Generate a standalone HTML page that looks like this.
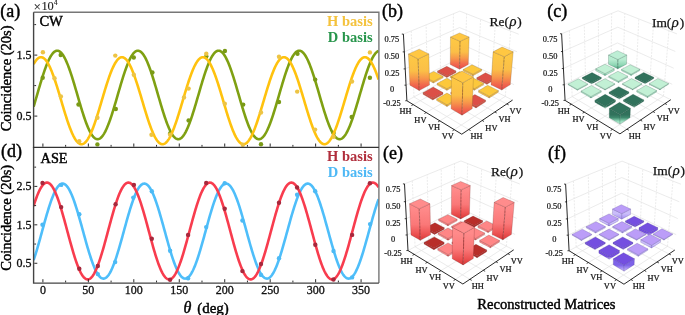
<!DOCTYPE html>
<html><head><meta charset="utf-8"><style>html,body{margin:0;padding:0;background:#fff;}svg{display:block;will-change:transform;}</style></head>
<body><svg width="685" height="315" viewBox="0 0 685 315"><defs><clipPath id="ca"><rect x="33.6" y="12.2" width="345.29999999999995" height="135.20000000000002"/></clipPath><clipPath id="cd"><rect x="33.6" y="147.4" width="345.29999999999995" height="135.70000000000002"/></clipPath><linearGradient id="g2" gradientUnits="userSpaceOnUse" x1="0" y1="41.32" x2="0" y2="69.15"><stop offset="0" stop-color="#FDC745"/><stop offset="0.38" stop-color="#FBBF47"/><stop offset="0.6" stop-color="#F8994A"/><stop offset="0.82" stop-color="#F1684D"/><stop offset="1" stop-color="#E8494C"/></linearGradient><linearGradient id="g3" gradientUnits="userSpaceOnUse" x1="0" y1="75.89" x2="0" y2="77.44"><stop offset="0" stop-color="#DC4F47"/><stop offset="1" stop-color="#D04840"/></linearGradient><linearGradient id="g4" gradientUnits="userSpaceOnUse" x1="0" y1="74.24" x2="0" y2="75.79"><stop offset="0" stop-color="#FDC546"/><stop offset="1" stop-color="#E0A234"/></linearGradient><linearGradient id="g5" gradientUnits="userSpaceOnUse" x1="0" y1="81.42" x2="0" y2="83"><stop offset="0" stop-color="#FDC546"/><stop offset="1" stop-color="#E0A234"/></linearGradient><linearGradient id="g6" gradientUnits="userSpaceOnUse" x1="0" y1="81.62" x2="0" y2="82.88"><stop offset="0" stop-color="#FDC546"/><stop offset="1" stop-color="#E0A234"/></linearGradient><linearGradient id="g7" gradientUnits="userSpaceOnUse" x1="0" y1="82.76" x2="0" y2="84.33"><stop offset="0" stop-color="#DC4F47"/><stop offset="1" stop-color="#D04840"/></linearGradient><linearGradient id="g8" gradientUnits="userSpaceOnUse" x1="0" y1="58.97" x2="0" y2="90.52"><stop offset="0" stop-color="#FDC745"/><stop offset="0.38" stop-color="#FBBF47"/><stop offset="0.6" stop-color="#F8994A"/><stop offset="0.82" stop-color="#F1684D"/><stop offset="1" stop-color="#E8494C"/></linearGradient><linearGradient id="g9" gradientUnits="userSpaceOnUse" x1="0" y1="88.76" x2="0" y2="90.37"><stop offset="0" stop-color="#FDC546"/><stop offset="1" stop-color="#E0A234"/></linearGradient><linearGradient id="g10" gradientUnits="userSpaceOnUse" x1="0" y1="88.62" x2="0" y2="90.22"><stop offset="0" stop-color="#FDC546"/><stop offset="1" stop-color="#E0A234"/></linearGradient><linearGradient id="g11" gradientUnits="userSpaceOnUse" x1="0" y1="56.73" x2="0" y2="90.07"><stop offset="0" stop-color="#FDC745"/><stop offset="0.38" stop-color="#FBBF47"/><stop offset="0.6" stop-color="#F8994A"/><stop offset="0.82" stop-color="#F1684D"/><stop offset="1" stop-color="#E8494C"/></linearGradient><linearGradient id="g12" gradientUnits="userSpaceOnUse" x1="0" y1="98.3" x2="0" y2="99.93"><stop offset="0" stop-color="#DC4F47"/><stop offset="1" stop-color="#D04840"/></linearGradient><linearGradient id="g13" gradientUnits="userSpaceOnUse" x1="0" y1="98.12" x2="0" y2="99.42"><stop offset="0" stop-color="#DC4F47"/><stop offset="1" stop-color="#D04840"/></linearGradient><linearGradient id="g14" gradientUnits="userSpaceOnUse" x1="0" y1="96.32" x2="0" y2="97.94"><stop offset="0" stop-color="#FDC546"/><stop offset="1" stop-color="#E0A234"/></linearGradient><linearGradient id="g15" gradientUnits="userSpaceOnUse" x1="0" y1="104.83" x2="0" y2="106.5"><stop offset="0" stop-color="#FDC546"/><stop offset="1" stop-color="#E0A234"/></linearGradient><linearGradient id="g16" gradientUnits="userSpaceOnUse" x1="0" y1="106.29" x2="0" y2="107.94"><stop offset="0" stop-color="#DC4F47"/><stop offset="1" stop-color="#D04840"/></linearGradient><linearGradient id="g17" gradientUnits="userSpaceOnUse" x1="0" y1="82.75" x2="0" y2="115.14"><stop offset="0" stop-color="#FDC745"/><stop offset="0.38" stop-color="#FBBF47"/><stop offset="0.6" stop-color="#F8994A"/><stop offset="0.82" stop-color="#F1684D"/><stop offset="1" stop-color="#E8494C"/></linearGradient><linearGradient id="g18" gradientUnits="userSpaceOnUse" x1="0" y1="59.54" x2="0" y2="68.8"><stop offset="0" stop-color="#B8ECD1"/><stop offset="0.6" stop-color="#8ED6B4"/><stop offset="1" stop-color="#4FA883"/></linearGradient><linearGradient id="g19" gradientUnits="userSpaceOnUse" x1="0" y1="73.67" x2="0" y2="75.54"><stop offset="0" stop-color="#B5EBCF"/><stop offset="1" stop-color="#5DB994"/></linearGradient><linearGradient id="g20" gradientUnits="userSpaceOnUse" x1="0" y1="74.2" x2="0" y2="75.44"><stop offset="0" stop-color="#B5EBCF"/><stop offset="1" stop-color="#5DB994"/></linearGradient><linearGradient id="g21" gradientUnits="userSpaceOnUse" x1="0" y1="82.65" x2="0" y2="83.91"><stop offset="0" stop-color="#31725C"/><stop offset="1" stop-color="#C5F5DE"/></linearGradient><linearGradient id="g22" gradientUnits="userSpaceOnUse" x1="0" y1="81.27" x2="0" y2="82.53"><stop offset="0" stop-color="#B5EBCF"/><stop offset="1" stop-color="#5DB994"/></linearGradient><linearGradient id="g23" gradientUnits="userSpaceOnUse" x1="0" y1="82.41" x2="0" y2="83.66"><stop offset="0" stop-color="#31725C"/><stop offset="1" stop-color="#C5F5DE"/></linearGradient><linearGradient id="g24" gradientUnits="userSpaceOnUse" x1="0" y1="89.39" x2="0" y2="90.17"><stop offset="0" stop-color="#B5EBCF"/><stop offset="1" stop-color="#5DB994"/></linearGradient><linearGradient id="g25" gradientUnits="userSpaceOnUse" x1="0" y1="89.25" x2="0" y2="90.02"><stop offset="0" stop-color="#B5EBCF"/><stop offset="1" stop-color="#5DB994"/></linearGradient><linearGradient id="g26" gradientUnits="userSpaceOnUse" x1="0" y1="89.1" x2="0" y2="89.87"><stop offset="0" stop-color="#B5EBCF"/><stop offset="1" stop-color="#5DB994"/></linearGradient><linearGradient id="g27" gradientUnits="userSpaceOnUse" x1="0" y1="88.96" x2="0" y2="89.72"><stop offset="0" stop-color="#B5EBCF"/><stop offset="1" stop-color="#5DB994"/></linearGradient><linearGradient id="g28" gradientUnits="userSpaceOnUse" x1="0" y1="96.64" x2="0" y2="97.95"><stop offset="0" stop-color="#B5EBCF"/><stop offset="1" stop-color="#5DB994"/></linearGradient><linearGradient id="g29" gradientUnits="userSpaceOnUse" x1="0" y1="97.77" x2="0" y2="99.07"><stop offset="0" stop-color="#31725C"/><stop offset="1" stop-color="#C5F5DE"/></linearGradient><linearGradient id="g30" gradientUnits="userSpaceOnUse" x1="0" y1="96.29" x2="0" y2="97.59"><stop offset="0" stop-color="#B5EBCF"/><stop offset="1" stop-color="#5DB994"/></linearGradient><linearGradient id="g31" gradientUnits="userSpaceOnUse" x1="0" y1="106.15" x2="0" y2="108.13"><stop offset="0" stop-color="#31725C"/><stop offset="1" stop-color="#C5F5DE"/></linearGradient><linearGradient id="g32" gradientUnits="userSpaceOnUse" x1="0" y1="105.94" x2="0" y2="107.26"><stop offset="0" stop-color="#31725C"/><stop offset="1" stop-color="#C5F5DE"/></linearGradient><linearGradient id="g33" gradientUnits="userSpaceOnUse" x1="0" y1="114.79" x2="0" y2="124.1"><stop offset="0" stop-color="#31725C"/><stop offset="0.3" stop-color="#3F8A6E"/><stop offset="0.7" stop-color="#97DEBD"/><stop offset="1" stop-color="#C8F7E0"/></linearGradient><linearGradient id="g34" gradientUnits="userSpaceOnUse" x1="0" y1="189.81" x2="0" y2="218.95"><stop offset="0" stop-color="#FF8A8A"/><stop offset="0.5" stop-color="#FA7878"/><stop offset="0.8" stop-color="#EC5252"/><stop offset="1" stop-color="#D83838"/></linearGradient><linearGradient id="g35" gradientUnits="userSpaceOnUse" x1="0" y1="224.13" x2="0" y2="225.69"><stop offset="0" stop-color="#FF8E8E"/><stop offset="1" stop-color="#D83A3A"/></linearGradient><linearGradient id="g36" gradientUnits="userSpaceOnUse" x1="0" y1="225.59" x2="0" y2="227.14"><stop offset="0" stop-color="#B82E2A"/><stop offset="1" stop-color="#A82828"/></linearGradient><linearGradient id="g37" gradientUnits="userSpaceOnUse" x1="0" y1="232.8" x2="0" y2="234.38"><stop offset="0" stop-color="#B82E2A"/><stop offset="1" stop-color="#A82828"/></linearGradient><linearGradient id="g38" gradientUnits="userSpaceOnUse" x1="0" y1="231.42" x2="0" y2="232.68"><stop offset="0" stop-color="#FF8E8E"/><stop offset="1" stop-color="#D83A3A"/></linearGradient><linearGradient id="g39" gradientUnits="userSpaceOnUse" x1="0" y1="230.98" x2="0" y2="232.56"><stop offset="0" stop-color="#FF8E8E"/><stop offset="1" stop-color="#D83A3A"/></linearGradient><linearGradient id="g40" gradientUnits="userSpaceOnUse" x1="0" y1="208.77" x2="0" y2="240.32"><stop offset="0" stop-color="#FF8A8A"/><stop offset="0.5" stop-color="#FA7878"/><stop offset="0.8" stop-color="#EC5252"/><stop offset="1" stop-color="#D83838"/></linearGradient><linearGradient id="g41" gradientUnits="userSpaceOnUse" x1="0" y1="238.56" x2="0" y2="240.17"><stop offset="0" stop-color="#FF8E8E"/><stop offset="1" stop-color="#D83A3A"/></linearGradient><linearGradient id="g42" gradientUnits="userSpaceOnUse" x1="0" y1="238.42" x2="0" y2="240.02"><stop offset="0" stop-color="#FF8E8E"/><stop offset="1" stop-color="#D83A3A"/></linearGradient><linearGradient id="g43" gradientUnits="userSpaceOnUse" x1="0" y1="207.23" x2="0" y2="239.87"><stop offset="0" stop-color="#FF8A8A"/><stop offset="0.5" stop-color="#FA7878"/><stop offset="0.8" stop-color="#EC5252"/><stop offset="1" stop-color="#D83838"/></linearGradient><linearGradient id="g44" gradientUnits="userSpaceOnUse" x1="0" y1="248.1" x2="0" y2="249.73"><stop offset="0" stop-color="#B82E2A"/><stop offset="1" stop-color="#A82828"/></linearGradient><linearGradient id="g45" gradientUnits="userSpaceOnUse" x1="0" y1="247.92" x2="0" y2="249.22"><stop offset="0" stop-color="#B82E2A"/><stop offset="1" stop-color="#A82828"/></linearGradient><linearGradient id="g46" gradientUnits="userSpaceOnUse" x1="0" y1="246.12" x2="0" y2="247.74"><stop offset="0" stop-color="#FF8E8E"/><stop offset="1" stop-color="#D83A3A"/></linearGradient><linearGradient id="g47" gradientUnits="userSpaceOnUse" x1="0" y1="254.63" x2="0" y2="256.3"><stop offset="0" stop-color="#FF8E8E"/><stop offset="1" stop-color="#D83A3A"/></linearGradient><linearGradient id="g48" gradientUnits="userSpaceOnUse" x1="0" y1="256.09" x2="0" y2="257.74"><stop offset="0" stop-color="#B82E2A"/><stop offset="1" stop-color="#A82828"/></linearGradient><linearGradient id="g49" gradientUnits="userSpaceOnUse" x1="0" y1="233.29" x2="0" y2="264.94"><stop offset="0" stop-color="#FF8A8A"/><stop offset="0.5" stop-color="#FA7878"/><stop offset="0.8" stop-color="#EC5252"/><stop offset="1" stop-color="#D83838"/></linearGradient><linearGradient id="g50" gradientUnits="userSpaceOnUse" x1="0" y1="213.62" x2="0" y2="219.15"><stop offset="0" stop-color="#CABDFA"/><stop offset="1" stop-color="#A38EF2"/></linearGradient><linearGradient id="g51" gradientUnits="userSpaceOnUse" x1="0" y1="223.4" x2="0" y2="225.89"><stop offset="0" stop-color="#CABDFA"/><stop offset="1" stop-color="#A38EF2"/></linearGradient><linearGradient id="g52" gradientUnits="userSpaceOnUse" x1="0" y1="225.79" x2="0" y2="227.03"><stop offset="0" stop-color="#744FE0"/><stop offset="1" stop-color="#CDBFFB"/></linearGradient><linearGradient id="g53" gradientUnits="userSpaceOnUse" x1="0" y1="231.73" x2="0" y2="233"><stop offset="0" stop-color="#CABDFA"/><stop offset="1" stop-color="#A38EF2"/></linearGradient><linearGradient id="g54" gradientUnits="userSpaceOnUse" x1="0" y1="231.62" x2="0" y2="232.88"><stop offset="0" stop-color="#CABDFA"/><stop offset="1" stop-color="#A38EF2"/></linearGradient><linearGradient id="g55" gradientUnits="userSpaceOnUse" x1="0" y1="232.76" x2="0" y2="235.26"><stop offset="0" stop-color="#744FE0"/><stop offset="1" stop-color="#CDBFFB"/></linearGradient><linearGradient id="g56" gradientUnits="userSpaceOnUse" x1="0" y1="239.74" x2="0" y2="240.52"><stop offset="0" stop-color="#CABDFA"/><stop offset="1" stop-color="#A38EF2"/></linearGradient><linearGradient id="g57" gradientUnits="userSpaceOnUse" x1="0" y1="239.6" x2="0" y2="240.37"><stop offset="0" stop-color="#CABDFA"/><stop offset="1" stop-color="#A38EF2"/></linearGradient><linearGradient id="g58" gradientUnits="userSpaceOnUse" x1="0" y1="239.45" x2="0" y2="240.22"><stop offset="0" stop-color="#CABDFA"/><stop offset="1" stop-color="#A38EF2"/></linearGradient><linearGradient id="g59" gradientUnits="userSpaceOnUse" x1="0" y1="239.31" x2="0" y2="240.07"><stop offset="0" stop-color="#CABDFA"/><stop offset="1" stop-color="#A38EF2"/></linearGradient><linearGradient id="g60" gradientUnits="userSpaceOnUse" x1="0" y1="248.3" x2="0" y2="249.6"><stop offset="0" stop-color="#744FE0"/><stop offset="1" stop-color="#CDBFFB"/></linearGradient><linearGradient id="g61" gradientUnits="userSpaceOnUse" x1="0" y1="248.12" x2="0" y2="249.42"><stop offset="0" stop-color="#744FE0"/><stop offset="1" stop-color="#CDBFFB"/></linearGradient><linearGradient id="g62" gradientUnits="userSpaceOnUse" x1="0" y1="245.34" x2="0" y2="247.94"><stop offset="0" stop-color="#CABDFA"/><stop offset="1" stop-color="#A38EF2"/></linearGradient><linearGradient id="g63" gradientUnits="userSpaceOnUse" x1="0" y1="256.5" x2="0" y2="259.14"><stop offset="0" stop-color="#744FE0"/><stop offset="1" stop-color="#CDBFFB"/></linearGradient><linearGradient id="g64" gradientUnits="userSpaceOnUse" x1="0" y1="254.96" x2="0" y2="256.29"><stop offset="0" stop-color="#CABDFA"/><stop offset="1" stop-color="#A38EF2"/></linearGradient><linearGradient id="g65" gradientUnits="userSpaceOnUse" x1="0" y1="265.14" x2="0" y2="271.15"><stop offset="0" stop-color="#7D62E8"/><stop offset="0.5" stop-color="#A590F2"/><stop offset="1" stop-color="#CBBDFA"/></linearGradient></defs><rect width="685" height="315" fill="#fff"/><g clip-path="url(#ca)">
<path d="M33.6,106.74 L34.1,105.07 L34.6,103.39 L35.1,101.69 L35.6,99.98 L36.1,98.26 L36.6,96.54 L37.1,94.82 L37.6,93.1 L38.1,91.38 L38.6,89.66 L39.1,87.96 L39.6,86.26 L40.1,84.58 L40.6,82.91 L41.1,81.26 L41.6,79.63 L42.1,78.03 L42.6,76.45 L43.1,74.9 L43.6,73.38 L44.1,71.89 L44.6,70.44 L45.1,69.02 L45.6,67.65 L46.1,66.31 L46.6,65.02 L47.1,63.77 L47.6,62.57 L48.1,61.42 L48.6,60.33 L49.1,59.28 L49.6,58.29 L50.1,57.35 L50.6,56.47 L51.1,55.65 L51.6,54.89 L52.1,54.19 L52.6,53.55 L53.1,52.97 L53.6,52.46 L54.1,52.01 L54.6,51.63 L55.1,51.31 L55.6,51.06 L56.1,50.87 L56.6,50.75 L57.1,50.7 L57.6,50.72 L58.1,50.8 L58.6,50.95 L59.1,51.17 L59.6,51.45 L60.1,51.8 L60.6,52.22 L61.1,52.7 L61.6,53.24 L62.1,53.85 L62.6,54.51 L63.1,55.24 L63.6,56.04 L64.1,56.89 L64.6,57.79 L65.1,58.76 L65.6,59.77 L66.1,60.85 L66.6,61.97 L67.1,63.14 L67.6,64.37 L68.1,65.63 L68.6,66.95 L69.1,68.3 L69.6,69.7 L70.1,71.13 L70.6,72.6 L71.1,74.11 L71.6,75.64 L72.1,77.21 L72.6,78.8 L73.1,80.41 L73.6,82.05 L74.1,83.71 L74.6,85.38 L75.1,87.07 L75.6,88.78 L76.1,90.49 L76.6,92.2 L77.1,93.92 L77.6,95.65 L78.1,97.37 L78.6,99.09 L79.1,100.8 L79.6,102.5 L80.1,104.2 L80.6,105.87 L81.1,107.53 L81.6,109.18 L82.1,110.8 L82.6,112.39 L83.1,113.96 L83.6,115.51 L84.1,117.02 L84.6,118.49 L85.1,119.93 L85.6,121.34 L86.1,122.7 L86.6,124.02 L87.1,125.3 L87.6,126.53 L88.1,127.71 L88.6,128.84 L89.1,129.93 L89.6,130.95 L90.1,131.93 L90.6,132.85 L91.1,133.71 L91.6,134.51 L92.1,135.25 L92.6,135.93 L93.1,136.55 L93.6,137.11 L94.1,137.6 L94.6,138.03 L95.1,138.39 L95.6,138.68 L96.1,138.91 L96.6,139.08 L97.1,139.17 L97.6,139.2 L98.1,139.16 L98.6,139.06 L99.1,138.88 L99.6,138.65 L100.1,138.34 L100.6,137.97 L101.1,137.53 L101.6,137.03 L102.1,136.47 L102.6,135.84 L103.1,135.15 L103.6,134.4 L104.1,133.59 L104.6,132.72 L105.1,131.8 L105.6,130.81 L106.1,129.78 L106.6,128.69 L107.1,127.55 L107.6,126.36 L108.1,125.12 L108.6,123.84 L109.1,122.51 L109.6,121.14 L110.1,119.73 L110.6,118.29 L111.1,116.81 L111.6,115.29 L112.1,113.75 L112.6,112.17 L113.1,110.57 L113.6,108.95 L114.1,107.3 L114.6,105.64 L115.1,103.96 L115.6,102.27 L116.1,100.56 L116.6,98.85 L117.1,97.13 L117.6,95.41 L118.1,93.68 L118.6,91.96 L119.1,90.25 L119.6,88.54 L120.1,86.84 L120.6,85.15 L121.1,83.48 L121.6,81.82 L122.1,80.19 L122.6,78.57 L123.1,76.98 L123.6,75.42 L124.1,73.89 L124.6,72.39 L125.1,70.93 L125.6,69.5 L126.1,68.11 L126.6,66.76 L127.1,65.45 L127.6,64.19 L128.1,62.98 L128.6,61.81 L129.1,60.69 L129.6,59.63 L130.1,58.62 L130.6,57.66 L131.1,56.76 L131.6,55.92 L132.1,55.14 L132.6,54.42 L133.1,53.76 L133.6,53.16 L134.1,52.62 L134.6,52.15 L135.1,51.75 L135.6,51.41 L136.1,51.13 L136.6,50.93 L137.1,50.79 L137.6,50.71 L138.1,50.71 L138.6,50.77 L139.1,50.89 L139.6,51.09 L140.1,51.35 L140.6,51.67 L141.1,52.07 L141.6,52.52 L142.1,53.05 L142.6,53.63 L143.1,54.28 L143.6,54.99 L144.1,55.76 L144.6,56.59 L145.1,57.48 L145.6,58.42 L146.1,59.42 L146.6,60.48 L147.1,61.58 L147.6,62.74 L148.1,63.95 L148.6,65.2 L149.1,66.5 L149.6,67.84 L150.1,69.22 L150.6,70.64 L151.1,72.1 L151.6,73.59 L152.1,75.12 L152.6,76.67 L153.1,78.25 L153.6,79.86 L154.1,81.49 L154.6,83.14 L155.1,84.81 L155.6,86.5 L156.1,88.2 L156.6,89.9 L157.1,91.62 L157.6,93.34 L158.1,95.06 L158.6,96.78 L159.1,98.5 L159.6,100.22 L160.1,101.93 L160.6,103.62 L161.1,105.3 L161.6,106.97 L162.1,108.62 L162.6,110.25 L163.1,111.85 L163.6,113.43 L164.1,114.98 L164.6,116.51 L165.1,117.99 L165.6,119.45 L166.1,120.86 L166.6,122.24 L167.1,123.58 L167.6,124.87 L168.1,126.11 L168.6,127.31 L169.1,128.46 L169.6,129.56 L170.1,130.61 L170.6,131.6 L171.1,132.54 L171.6,133.42 L172.1,134.24 L172.6,135.01 L173.1,135.71 L173.6,136.35 L174.1,136.92 L174.6,137.44 L175.1,137.89 L175.6,138.27 L176.1,138.59 L176.6,138.84 L177.1,139.03 L177.6,139.15 L178.1,139.2 L178.6,139.18 L179.1,139.1 L179.6,138.95 L180.1,138.73 L180.6,138.45 L181.1,138.1 L181.6,137.69 L182.1,137.21 L182.6,136.67 L183.1,136.06 L183.6,135.39 L184.1,134.66 L184.6,133.87 L185.1,133.02 L185.6,132.12 L186.1,131.15 L186.6,130.14 L187.1,129.06 L187.6,127.94 L188.1,126.77 L188.6,125.55 L189.1,124.28 L189.6,122.97 L190.1,121.61 L190.6,120.22 L191.1,118.78 L191.6,117.31 L192.1,115.81 L192.6,114.27 L193.1,112.71 L193.6,111.12 L194.1,109.5 L194.6,107.86 L195.1,106.21 L195.6,104.53 L196.1,102.84 L196.6,101.14 L197.1,99.43 L197.6,97.71 L198.1,95.99 L198.6,94.27 L199.1,92.55 L199.6,90.83 L200.1,89.12 L200.6,87.41 L201.1,85.72 L201.6,84.04 L202.1,82.38 L202.6,80.74 L203.1,79.12 L203.6,77.52 L204.1,75.95 L204.6,74.41 L205.1,72.9 L205.6,71.42 L206.1,69.98 L206.6,68.58 L207.1,67.21 L207.6,65.89 L208.1,64.62 L208.6,63.38 L209.1,62.2 L209.6,61.07 L210.1,59.98 L210.6,58.96 L211.1,57.98 L211.6,57.06 L212.1,56.2 L212.6,55.4 L213.1,54.66 L213.6,53.97 L214.1,53.35 L214.6,52.8 L215.1,52.31 L215.6,51.88 L216.1,51.52 L216.6,51.22 L217.1,50.99 L217.6,50.83 L218.1,50.73 L218.6,50.7 L219.1,50.74 L219.6,50.84 L220.1,51.01 L220.6,51.25 L221.1,51.56 L221.6,51.93 L222.1,52.36 L222.6,52.86 L223.1,53.43 L223.6,54.05 L224.1,54.74 L224.6,55.49 L225.1,56.3 L225.6,57.17 L226.1,58.09 L226.6,59.08 L227.1,60.11 L227.6,61.2 L228.1,62.34 L228.6,63.53 L229.1,64.77 L229.6,66.05 L230.1,67.38 L230.6,68.74 L231.1,70.15 L231.6,71.6 L232.1,73.08 L232.6,74.59 L233.1,76.14 L233.6,77.71 L234.1,79.31 L234.6,80.94 L235.1,82.58 L235.6,84.24 L236.1,85.92 L236.6,87.62 L237.1,89.32 L237.6,91.03 L238.1,92.75 L238.6,94.48 L239.1,96.2 L239.6,97.92 L240.1,99.64 L240.6,101.35 L241.1,103.05 L241.6,104.73 L242.1,106.41 L242.6,108.06 L243.1,109.7 L243.6,111.31 L244.1,112.9 L244.6,114.46 L245.1,115.99 L245.6,117.49 L246.1,118.96 L246.6,120.39 L247.1,121.78 L247.6,123.13 L248.1,124.43 L248.6,125.7 L249.1,126.91 L249.6,128.08 L250.1,129.2 L250.6,130.26 L251.1,131.27 L251.6,132.23 L252.1,133.13 L252.6,133.97 L253.1,134.75 L253.6,135.48 L254.1,136.14 L254.6,136.74 L255.1,137.27 L255.6,137.74 L256.1,138.15 L256.6,138.49 L257.1,138.76 L257.6,138.97 L258.1,139.11 L258.6,139.19 L259.1,139.19 L259.6,139.14 L260.1,139.01 L260.6,138.81 L261.1,138.55 L261.6,138.23 L262.1,137.84 L262.6,137.38 L263.1,136.86 L263.6,136.27 L264.1,135.63 L264.6,134.92 L265.1,134.15 L265.6,133.32 L266.1,132.43 L266.6,131.49 L267.1,130.49 L267.6,129.43 L268.1,128.33 L268.6,127.17 L269.1,125.97 L269.6,124.71 L270.1,123.42 L270.6,122.08 L271.1,120.7 L271.6,119.27 L272.1,117.82 L272.6,116.32 L273.1,114.8 L273.6,113.25 L274.1,111.66 L274.6,110.05 L275.1,108.42 L275.6,106.77 L276.1,105.1 L276.6,103.42 L277.1,101.72 L277.6,100.01 L278.1,98.3 L278.6,96.58 L279.1,94.86 L279.6,93.13 L280.1,91.41 L280.6,89.7 L281.1,87.99 L281.6,86.3 L282.1,84.61 L282.6,82.94 L283.1,81.3 L283.6,79.67 L284.1,78.06 L284.6,76.48 L285.1,74.93 L285.6,73.41 L286.1,71.92 L286.6,70.47 L287.1,69.05 L287.6,67.67 L288.1,66.34 L288.6,65.05 L289.1,63.8 L289.6,62.6 L290.1,61.45 L290.6,60.35 L291.1,59.3 L291.6,58.31 L292.1,57.37 L292.6,56.49 L293.1,55.66 L293.6,54.9 L294.1,54.2 L294.6,53.56 L295.1,52.98 L295.6,52.47 L296.1,52.02 L296.6,51.63 L297.1,51.31 L297.6,51.06 L298.1,50.87 L298.6,50.75 L299.1,50.7 L299.6,50.72 L300.1,50.8 L300.6,50.95 L301.1,51.16 L301.6,51.45 L302.1,51.79 L302.6,52.21 L303.1,52.68 L303.6,53.23 L304.1,53.83 L304.6,54.5 L305.1,55.23 L305.6,56.02 L306.1,56.87 L306.6,57.77 L307.1,58.74 L307.6,59.75 L308.1,60.82 L308.6,61.95 L309.1,63.12 L309.6,64.34 L310.1,65.61 L310.6,66.92 L311.1,68.27 L311.6,69.67 L312.1,71.1 L312.6,72.57 L313.1,74.08 L313.6,75.61 L314.1,77.17 L314.6,78.77 L315.1,80.38 L315.6,82.02 L316.1,83.68 L316.6,85.35 L317.1,87.04 L317.6,88.74 L318.1,90.45 L318.6,92.17 L319.1,93.89 L319.6,95.61 L320.1,97.34 L320.6,99.05 L321.1,100.77 L321.6,102.47 L322.1,104.16 L322.6,105.84 L323.1,107.5 L323.6,109.14 L324.1,110.77 L324.6,112.36 L325.1,113.93 L325.6,115.47 L326.1,116.99 L326.6,118.46 L327.1,119.9 L327.6,121.31 L328.1,122.67 L328.6,123.99 L329.1,125.27 L329.6,126.5 L330.1,127.69 L330.6,128.82 L331.1,129.9 L331.6,130.93 L332.1,131.91 L332.6,132.83 L333.1,133.69 L333.6,134.49 L334.1,135.24 L334.6,135.92 L335.1,136.54 L335.6,137.1 L336.1,137.59 L336.6,138.02 L337.1,138.38 L337.6,138.68 L338.1,138.91 L338.6,139.07 L339.1,139.17 L339.6,139.2 L340.1,139.16 L340.6,139.06 L341.1,138.89 L341.6,138.65 L342.1,138.35 L342.6,137.98 L343.1,137.54 L343.6,137.04 L344.1,136.48 L344.6,135.85 L345.1,135.17 L345.6,134.42 L346.1,133.61 L346.6,132.74 L347.1,131.81 L347.6,130.83 L348.1,129.8 L348.6,128.71 L349.1,127.57 L349.6,126.38 L350.1,125.15 L350.6,123.86 L351.1,122.54 L351.6,121.17 L352.1,119.76 L352.6,118.32 L353.1,116.84 L353.6,115.32 L354.1,113.78 L354.6,112.2 L355.1,110.6 L355.6,108.98 L356.1,107.34 L356.6,105.67 L357.1,103.99 L357.6,102.3 L358.1,100.6 L358.6,98.88 L359.1,97.16 L359.6,95.44 L360.1,93.72 L360.6,92 L361.1,90.28 L361.6,88.57 L362.1,86.87 L362.6,85.18 L363.1,83.51 L363.6,81.85 L364.1,80.22 L364.6,78.61 L365.1,77.02 L365.6,75.46 L366.1,73.92 L366.6,72.42 L367.1,70.96 L367.6,69.53 L368.1,68.14 L368.6,66.79 L369.1,65.48 L369.6,64.22 L370.1,63 L370.6,61.83 L371.1,60.72 L371.6,59.65 L372.1,58.64 L372.6,57.68 L373.1,56.78 L373.6,55.94 L374.1,55.15 L374.6,54.43 L375.1,53.77 L375.6,53.17 L376.1,52.63 L376.6,52.16 L377.1,51.76 L377.6,51.41 L378.1,51.14 L378.6,50.93" fill="none" stroke="#7FA012" stroke-width="2.6" stroke-linejoin="round"/>
<circle cx="42.7" cy="77.7" r="2.2" fill="#7A9A16"/><circle cx="60.7" cy="55" r="2.2" fill="#7A9A16"/><circle cx="78.5" cy="104.5" r="2.2" fill="#7A9A16"/><circle cx="97.4" cy="144.4" r="2.2" fill="#7A9A16"/><circle cx="115.8" cy="109" r="2.2" fill="#7A9A16"/><circle cx="133.8" cy="57.5" r="2.2" fill="#7A9A16"/><circle cx="152.4" cy="72.4" r="2.2" fill="#7A9A16"/><circle cx="170.1" cy="133.5" r="2.2" fill="#7A9A16"/><circle cx="188.6" cy="120.4" r="2.2" fill="#7A9A16"/><circle cx="206.3" cy="56.2" r="2.2" fill="#7A9A16"/><circle cx="224.9" cy="51" r="2.2" fill="#7A9A16"/><circle cx="243.2" cy="104.6" r="2.2" fill="#7A9A16"/><circle cx="261" cy="144.3" r="2.2" fill="#7A9A16"/><circle cx="279" cy="102" r="2.2" fill="#7A9A16"/><circle cx="297.5" cy="53.7" r="2.2" fill="#7A9A16"/><circle cx="315.2" cy="79.6" r="2.2" fill="#7A9A16"/><circle cx="333.6" cy="132.9" r="2.2" fill="#7A9A16"/><circle cx="351.7" cy="117" r="2.2" fill="#7A9A16"/><circle cx="369.9" cy="77.7" r="2.2" fill="#7A9A16"/>
<path d="M33.6,64.18 L34.1,63.29 L34.6,62.45 L35.1,61.68 L35.6,60.96 L36.1,60.31 L36.6,59.71 L37.1,59.18 L37.6,58.7 L38.1,58.3 L38.6,57.95 L39.1,57.67 L39.6,57.46 L40.1,57.31 L40.6,57.22 L41.1,57.2 L41.6,57.25 L42.1,57.36 L42.6,57.53 L43.1,57.78 L43.6,58.08 L44.1,58.45 L44.6,58.89 L45.1,59.38 L45.6,59.94 L46.1,60.56 L46.6,61.24 L47.1,61.98 L47.6,62.78 L48.1,63.64 L48.6,64.55 L49.1,65.51 L49.6,66.53 L50.1,67.6 L50.6,68.72 L51.1,69.89 L51.6,71.1 L52.1,72.36 L52.6,73.66 L53.1,75 L53.6,76.38 L54.1,77.8 L54.6,79.25 L55.1,80.74 L55.6,82.25 L56.1,83.79 L56.6,85.36 L57.1,86.95 L57.6,88.56 L58.1,90.19 L58.6,91.84 L59.1,93.49 L59.6,95.16 L60.1,96.84 L60.6,98.52 L61.1,100.21 L61.6,101.9 L62.1,103.58 L62.6,105.26 L63.1,106.94 L63.6,108.6 L64.1,110.26 L64.6,111.9 L65.1,113.52 L65.6,115.12 L66.1,116.7 L66.6,118.26 L67.1,119.79 L67.6,121.29 L68.1,122.76 L68.6,124.2 L69.1,125.6 L69.6,126.97 L70.1,128.29 L70.6,129.57 L71.1,130.81 L71.6,132.01 L72.1,133.16 L72.6,134.26 L73.1,135.3 L73.6,136.3 L74.1,137.24 L74.6,138.13 L75.1,138.96 L75.6,139.74 L76.1,140.45 L76.6,141.11 L77.1,141.7 L77.6,142.23 L78.1,142.7 L78.6,143.11 L79.1,143.45 L79.6,143.73 L80.1,143.95 L80.6,144.1 L81.1,144.18 L81.6,144.2 L82.1,144.15 L82.6,144.04 L83.1,143.86 L83.6,143.62 L84.1,143.31 L84.6,142.94 L85.1,142.5 L85.6,142.01 L86.1,141.45 L86.6,140.83 L87.1,140.14 L87.6,139.4 L88.1,138.6 L88.6,137.75 L89.1,136.83 L89.6,135.87 L90.1,134.85 L90.6,133.78 L91.1,132.66 L91.6,131.49 L92.1,130.27 L92.6,129.01 L93.1,127.71 L93.6,126.37 L94.1,124.99 L94.6,123.57 L95.1,122.12 L95.6,120.63 L96.1,119.12 L96.6,117.58 L97.1,116.01 L97.6,114.42 L98.1,112.81 L98.6,111.18 L99.1,109.53 L99.6,107.87 L100.1,106.2 L100.6,104.53 L101.1,102.84 L101.6,101.16 L102.1,99.47 L102.6,97.78 L103.1,96.1 L103.6,94.43 L104.1,92.76 L104.6,91.11 L105.1,89.47 L105.6,87.85 L106.1,86.25 L106.6,84.67 L107.1,83.11 L107.6,81.58 L108.1,80.08 L108.6,78.61 L109.1,77.17 L109.6,75.77 L110.1,74.41 L110.6,73.08 L111.1,71.8 L111.6,70.56 L112.1,69.37 L112.6,68.22 L113.1,67.12 L113.6,66.08 L114.1,65.08 L114.6,64.14 L115.1,63.25 L115.6,62.42 L116.1,61.65 L116.6,60.94 L117.1,60.28 L117.6,59.69 L118.1,59.16 L118.6,58.69 L119.1,58.28 L119.6,57.94 L120.1,57.66 L120.6,57.45 L121.1,57.3 L121.6,57.22 L122.1,57.2 L122.6,57.25 L123.1,57.36 L123.6,57.54 L124.1,57.79 L124.6,58.1 L125.1,58.47 L125.6,58.9 L126.1,59.4 L126.6,59.96 L127.1,60.59 L127.6,61.27 L128.1,62.01 L128.6,62.81 L129.1,63.67 L129.6,64.58 L130.1,65.55 L130.6,66.57 L131.1,67.64 L131.6,68.77 L132.1,69.93 L132.6,71.15 L133.1,72.41 L133.6,73.71 L134.1,75.06 L134.6,76.44 L135.1,77.86 L135.6,79.31 L136.1,80.8 L136.6,82.31 L137.1,83.85 L137.6,85.42 L138.1,87.01 L138.6,88.63 L139.1,90.26 L139.6,91.9 L140.1,93.56 L140.6,95.23 L141.1,96.91 L141.6,98.59 L142.1,100.28 L142.6,101.97 L143.1,103.65 L143.6,105.33 L144.1,107.01 L144.6,108.67 L145.1,110.32 L145.6,111.96 L146.1,113.58 L146.6,115.18 L147.1,116.76 L147.6,118.32 L148.1,119.85 L148.6,121.35 L149.1,122.82 L149.6,124.26 L150.1,125.66 L150.6,127.02 L151.1,128.34 L151.6,129.62 L152.1,130.86 L152.6,132.06 L153.1,133.2 L153.6,134.3 L154.1,135.34 L154.6,136.34 L155.1,137.28 L155.6,138.17 L156.1,138.99 L156.6,139.77 L157.1,140.48 L157.6,141.13 L158.1,141.72 L158.6,142.25 L159.1,142.72 L159.6,143.13 L160.1,143.47 L160.6,143.74 L161.1,143.95 L161.6,144.1 L162.1,144.18 L162.6,144.2 L163.1,144.15 L163.6,144.03 L164.1,143.85 L164.6,143.61 L165.1,143.3 L165.6,142.92 L166.1,142.49 L166.6,141.99 L167.1,141.42 L167.6,140.8 L168.1,140.12 L168.6,139.37 L169.1,138.57 L169.6,137.71 L170.1,136.8 L170.6,135.83 L171.1,134.81 L171.6,133.73 L172.1,132.61 L172.6,131.44 L173.1,130.22 L173.6,128.96 L174.1,127.66 L174.6,126.32 L175.1,124.93 L175.6,123.51 L176.1,122.06 L176.6,120.57 L177.1,119.06 L177.6,117.51 L178.1,115.95 L178.6,114.35 L179.1,112.74 L179.6,111.11 L180.1,109.47 L180.6,107.81 L181.1,106.14 L181.6,104.46 L182.1,102.77 L182.6,101.09 L183.1,99.4 L183.6,97.72 L184.1,96.03 L184.6,94.36 L185.1,92.7 L185.6,91.04 L186.1,89.41 L186.6,87.79 L187.1,86.18 L187.6,84.6 L188.1,83.05 L188.6,81.52 L189.1,80.02 L189.6,78.55 L190.1,77.12 L190.6,75.72 L191.1,74.35 L191.6,73.03 L192.1,71.75 L192.6,70.51 L193.1,69.32 L193.6,68.18 L194.1,67.08 L194.6,66.03 L195.1,65.04 L195.6,64.1 L196.1,63.22 L196.6,62.39 L197.1,61.62 L197.6,60.91 L198.1,60.26 L198.6,59.67 L199.1,59.14 L199.6,58.67 L200.1,58.27 L200.6,57.93 L201.1,57.65 L201.6,57.44 L202.1,57.3 L202.6,57.22 L203.1,57.2 L203.6,57.25 L204.1,57.37 L204.6,57.55 L205.1,57.8 L205.6,58.11 L206.1,58.48 L206.6,58.92 L207.1,59.42 L207.6,59.99 L208.1,60.61 L208.6,61.3 L209.1,62.04 L209.6,62.85 L210.1,63.71 L210.6,64.62 L211.1,65.59 L211.6,66.61 L212.1,67.69 L212.6,68.81 L213.1,69.98 L213.6,71.2 L214.1,72.46 L214.6,73.77 L215.1,75.11 L215.6,76.5 L216.1,77.92 L216.6,79.37 L217.1,80.86 L217.6,82.37 L218.1,83.92 L218.6,85.49 L219.1,87.08 L219.6,88.69 L220.1,90.32 L220.6,91.97 L221.1,93.63 L221.6,95.3 L222.1,96.98 L222.6,98.66 L223.1,100.35 L223.6,102.03 L224.1,103.72 L224.6,105.4 L225.1,107.07 L225.6,108.74 L226.1,110.39 L226.6,112.03 L227.1,113.65 L227.6,115.25 L228.1,116.83 L228.6,118.38 L229.1,119.91 L229.6,121.41 L230.1,122.88 L230.6,124.31 L231.1,125.71 L231.6,127.07 L232.1,128.39 L232.6,129.67 L233.1,130.91 L233.6,132.1 L234.1,133.25 L234.6,134.34 L235.1,135.39 L235.6,136.38 L236.1,137.32 L236.6,138.2 L237.1,139.03 L237.6,139.8 L238.1,140.51 L238.6,141.16 L239.1,141.75 L239.6,142.27 L240.1,142.74 L240.6,143.14 L241.1,143.48 L241.6,143.75 L242.1,143.96 L242.6,144.11 L243.1,144.18 L243.6,144.2 L244.1,144.14 L244.6,144.03 L245.1,143.84 L245.6,143.6 L246.1,143.28 L246.6,142.91 L247.1,142.47 L247.6,141.96 L248.1,141.4 L248.6,140.77 L249.1,140.09 L249.6,139.34 L250.1,138.54 L250.6,137.68 L251.1,136.76 L251.6,135.79 L252.1,134.77 L252.6,133.69 L253.1,132.57 L253.6,131.39 L254.1,130.17 L254.6,128.91 L255.1,127.61 L255.6,126.26 L256.1,124.88 L256.6,123.46 L257.1,122 L257.6,120.51 L258.1,119 L258.6,117.45 L259.1,115.88 L259.6,114.29 L260.1,112.68 L260.6,111.05 L261.1,109.4 L261.6,107.74 L262.1,106.07 L262.6,104.39 L263.1,102.71 L263.6,101.02 L264.1,99.33 L264.6,97.65 L265.1,95.97 L265.6,94.29 L266.1,92.63 L266.6,90.98 L267.1,89.34 L267.6,87.72 L268.1,86.12 L268.6,84.54 L269.1,82.99 L269.6,81.46 L270.1,79.96 L270.6,78.49 L271.1,77.06 L271.6,75.66 L272.1,74.3 L272.6,72.98 L273.1,71.7 L273.6,70.46 L274.1,69.27 L274.6,68.13 L275.1,67.04 L275.6,65.99 L276.1,65 L276.6,64.07 L277.1,63.18 L277.6,62.36 L278.1,61.59 L278.6,60.88 L279.1,60.23 L279.6,59.64 L280.1,59.12 L280.6,58.65 L281.1,58.25 L281.6,57.91 L282.1,57.64 L282.6,57.43 L283.1,57.29 L283.6,57.22 L284.1,57.2 L284.6,57.26 L285.1,57.38 L285.6,57.56 L286.1,57.81 L286.6,58.12 L287.1,58.5 L287.6,58.94 L288.1,59.45 L288.6,60.01 L289.1,60.64 L289.6,61.33 L290.1,62.07 L290.6,62.88 L291.1,63.74 L291.6,64.66 L292.1,65.63 L292.6,66.66 L293.1,67.73 L293.6,68.86 L294.1,70.03 L294.6,71.25 L295.1,72.51 L295.6,73.82 L296.1,75.17 L296.6,76.55 L297.1,77.97 L297.6,79.43 L298.1,80.92 L298.6,82.43 L299.1,83.98 L299.6,85.55 L300.1,87.14 L300.6,88.76 L301.1,90.39 L301.6,92.03 L302.1,93.69 L302.6,95.36 L303.1,97.04 L303.6,98.73 L304.1,100.41 L304.6,102.1 L305.1,103.79 L305.6,105.47 L306.1,107.14 L306.6,108.8 L307.1,110.45 L307.6,112.09 L308.1,113.71 L308.6,115.31 L309.1,116.89 L309.6,118.44 L310.1,119.97 L310.6,121.47 L311.1,122.94 L311.6,124.37 L312.1,125.77 L312.6,127.13 L313.1,128.45 L313.6,129.73 L314.1,130.96 L314.6,132.15 L315.1,133.29 L315.6,134.38 L316.1,135.43 L316.6,136.42 L317.1,137.35 L317.6,138.23 L318.1,139.06 L318.6,139.82 L319.1,140.53 L319.6,141.18 L320.1,141.77 L320.6,142.29 L321.1,142.76 L321.6,143.16 L322.1,143.49 L322.6,143.76 L323.1,143.97 L323.6,144.11 L324.1,144.19 L324.6,144.2 L325.1,144.14 L325.6,144.02 L326.1,143.84 L326.6,143.58 L327.1,143.27 L327.6,142.89 L328.1,142.45 L328.6,141.94 L329.1,141.38 L329.6,140.75 L330.1,140.06 L330.6,139.31 L331.1,138.5 L331.6,137.64 L332.1,136.72 L332.6,135.75 L333.1,134.72 L333.6,133.65 L334.1,132.52 L334.6,131.35 L335.1,130.13 L335.6,128.86 L336.1,127.55 L336.6,126.21 L337.1,124.82 L337.6,123.4 L338.1,121.94 L338.6,120.45 L339.1,118.94 L339.6,117.39 L340.1,115.82 L340.6,114.23 L341.1,112.61 L341.6,110.98 L342.1,109.33 L342.6,107.67 L343.1,106 L343.6,104.32 L344.1,102.64 L344.6,100.95 L345.1,99.27 L345.6,97.58 L346.1,95.9 L346.6,94.23 L347.1,92.56 L347.6,90.91 L348.1,89.28 L348.6,87.66 L349.1,86.06 L349.6,84.48 L350.1,82.93 L350.6,81.4 L351.1,79.9 L351.6,78.44 L352.1,77 L352.6,75.61 L353.1,74.25 L353.6,72.93 L354.1,71.65 L354.6,70.42 L355.1,69.23 L355.6,68.09 L356.1,66.99 L356.6,65.95 L357.1,64.96 L357.6,64.03 L358.1,63.15 L358.6,62.33 L359.1,61.56 L359.6,60.85 L360.1,60.21 L360.6,59.62 L361.1,59.1 L361.6,58.64 L362.1,58.24 L362.6,57.9 L363.1,57.63 L363.6,57.43 L364.1,57.29 L364.6,57.21 L365.1,57.2 L365.6,57.26 L366.1,57.38 L366.6,57.57 L367.1,57.82 L367.6,58.14 L368.1,58.52 L368.6,58.96 L369.1,59.47 L369.6,60.04 L370.1,60.67 L370.6,61.36 L371.1,62.11 L371.6,62.91 L372.1,63.78 L372.6,64.7 L373.1,65.67 L373.6,66.7 L374.1,67.78 L374.6,68.9 L375.1,70.08 L375.6,71.3 L376.1,72.57 L376.6,73.87 L377.1,75.22 L377.6,76.61 L378.1,78.03 L378.6,79.49" fill="none" stroke="#FFC20E" stroke-width="2.6" stroke-linejoin="round"/>
<circle cx="42.9" cy="52.3" r="2.2" fill="#EDC445"/><circle cx="54.5" cy="78.3" r="2.2" fill="#EDC445"/><circle cx="60.9" cy="96.4" r="2.2" fill="#EDC445"/><circle cx="79.2" cy="141.2" r="2.2" fill="#EDC445"/><circle cx="97.4" cy="117.7" r="2.2" fill="#EDC445"/><circle cx="115.3" cy="55.6" r="2.2" fill="#EDC445"/><circle cx="133.8" cy="74.7" r="2.2" fill="#EDC445"/><circle cx="151.5" cy="134.8" r="2.2" fill="#EDC445"/><circle cx="170.1" cy="134.6" r="2.2" fill="#EDC445"/><circle cx="184" cy="97.4" r="2.2" fill="#EDC445"/><circle cx="188.6" cy="88.6" r="2.2" fill="#EDC445"/><circle cx="206.3" cy="53.7" r="2.2" fill="#EDC445"/><circle cx="224.8" cy="103.7" r="2.2" fill="#EDC445"/><circle cx="242.8" cy="144.8" r="2.2" fill="#EDC445"/><circle cx="261" cy="112.5" r="2.2" fill="#EDC445"/><circle cx="279" cy="56.8" r="2.2" fill="#EDC445"/><circle cx="297.2" cy="91.6" r="2.2" fill="#EDC445"/><circle cx="315.1" cy="129.6" r="2.2" fill="#EDC445"/><circle cx="333.6" cy="136.7" r="2.2" fill="#EDC445"/><circle cx="352" cy="81.5" r="2.2" fill="#EDC445"/><circle cx="369.9" cy="52.4" r="2.2" fill="#EDC445"/>
</g>
<g clip-path="url(#cd)">
<path d="M33.6,260.12 L34.1,258.66 L34.6,257.15 L35.1,255.6 L35.6,254.02 L36.1,252.41 L36.6,250.76 L37.1,249.08 L37.6,247.38 L38.1,245.65 L38.6,243.9 L39.1,242.14 L39.6,240.35 L40.1,238.56 L40.6,236.75 L41.1,234.93 L41.6,233.11 L42.1,231.28 L42.6,229.46 L43.1,227.63 L43.6,225.82 L44.1,224.01 L44.6,222.21 L45.1,220.42 L45.6,218.65 L46.1,216.89 L46.6,215.16 L47.1,213.46 L47.6,211.77 L48.1,210.12 L48.6,208.5 L49.1,206.91 L49.6,205.36 L50.1,203.84 L50.6,202.37 L51.1,200.93 L51.6,199.54 L52.1,198.2 L52.6,196.91 L53.1,195.67 L53.6,194.48 L54.1,193.34 L54.6,192.26 L55.1,191.24 L55.6,190.28 L56.1,189.37 L56.6,188.53 L57.1,187.75 L57.6,187.04 L58.1,186.39 L58.6,185.81 L59.1,185.29 L59.6,184.84 L60.1,184.46 L60.6,184.15 L61.1,183.91 L61.6,183.73 L62.1,183.63 L62.6,183.6 L63.1,183.64 L63.6,183.75 L64.1,183.92 L64.6,184.17 L65.1,184.49 L65.6,184.87 L66.1,185.33 L66.6,185.85 L67.1,186.44 L67.6,187.09 L68.1,187.81 L68.6,188.6 L69.1,189.44 L69.6,190.35 L70.1,191.32 L70.6,192.35 L71.1,193.43 L71.6,194.57 L72.1,195.77 L72.6,197.01 L73.1,198.31 L73.6,199.65 L74.1,201.05 L74.6,202.48 L75.1,203.96 L75.6,205.48 L76.1,207.03 L76.6,208.63 L77.1,210.25 L77.6,211.91 L78.1,213.59 L78.6,215.3 L79.1,217.03 L79.6,218.79 L80.1,220.56 L80.6,222.35 L81.1,224.15 L81.6,225.96 L82.1,227.78 L82.6,229.6 L83.1,231.43 L83.6,233.25 L84.1,235.08 L84.6,236.89 L85.1,238.7 L85.6,240.5 L86.1,242.28 L86.6,244.05 L87.1,245.79 L87.6,247.52 L88.1,249.22 L88.6,250.89 L89.1,252.54 L89.6,254.15 L90.1,255.73 L90.6,257.27 L91.1,258.78 L91.6,260.24 L92.1,261.66 L92.6,263.04 L93.1,264.36 L93.6,265.64 L94.1,266.87 L94.6,268.04 L95.1,269.16 L95.6,270.23 L96.1,271.23 L96.6,272.18 L97.1,273.07 L97.6,273.89 L98.1,274.65 L98.6,275.35 L99.1,275.98 L99.6,276.54 L100.1,277.04 L100.6,277.47 L101.1,277.83 L101.6,278.13 L102.1,278.35 L102.6,278.5 L103.1,278.58 L103.6,278.6 L104.1,278.54 L104.6,278.41 L105.1,278.21 L105.6,277.95 L106.1,277.61 L106.6,277.2 L107.1,276.73 L107.6,276.19 L108.1,275.58 L108.6,274.91 L109.1,274.17 L109.6,273.37 L110.1,272.51 L110.6,271.58 L111.1,270.6 L111.6,269.55 L112.1,268.45 L112.6,267.3 L113.1,266.09 L113.6,264.83 L114.1,263.52 L114.6,262.16 L115.1,260.76 L115.6,259.31 L116.1,257.82 L116.6,256.29 L117.1,254.72 L117.6,253.12 L118.1,251.49 L118.6,249.82 L119.1,248.13 L119.6,246.42 L120.1,244.68 L120.6,242.92 L121.1,241.14 L121.6,239.35 L122.1,237.54 L122.6,235.73 L123.1,233.91 L123.6,232.09 L124.1,230.26 L124.6,228.44 L125.1,226.61 L125.6,224.8 L126.1,223 L126.6,221.2 L127.1,219.42 L127.6,217.66 L128.1,215.92 L128.6,214.2 L129.1,212.51 L129.6,210.84 L130.1,209.21 L130.6,207.6 L131.1,206.03 L131.6,204.5 L132.1,203.01 L132.6,201.56 L133.1,200.15 L133.6,198.79 L134.1,197.47 L134.6,196.21 L135.1,195 L135.6,193.84 L136.1,192.73 L136.6,191.68 L137.1,190.69 L137.6,189.76 L138.1,188.9 L138.6,188.09 L139.1,187.35 L139.6,186.67 L140.1,186.06 L140.6,185.51 L141.1,185.03 L141.6,184.62 L142.1,184.28 L142.6,184.01 L143.1,183.8 L143.6,183.67 L144.1,183.61 L144.6,183.61 L145.1,183.69 L145.6,183.84 L146.1,184.05 L146.6,184.34 L147.1,184.7 L147.6,185.12 L148.1,185.61 L148.6,186.17 L149.1,186.8 L149.6,187.49 L150.1,188.25 L150.6,189.06 L151.1,189.95 L151.6,190.89 L152.1,191.89 L152.6,192.95 L153.1,194.06 L153.6,195.23 L154.1,196.46 L154.6,197.73 L155.1,199.06 L155.6,200.43 L156.1,201.84 L156.6,203.3 L157.1,204.81 L157.6,206.35 L158.1,207.92 L158.6,209.53 L159.1,211.17 L159.6,212.85 L160.1,214.55 L160.6,216.27 L161.1,218.01 L161.6,219.78 L162.1,221.56 L162.6,223.36 L163.1,225.16 L163.6,226.98 L164.1,228.8 L164.6,230.63 L165.1,232.45 L165.6,234.27 L166.1,236.09 L166.6,237.91 L167.1,239.71 L167.6,241.5 L168.1,243.27 L168.6,245.03 L169.1,246.76 L169.6,248.47 L170.1,250.16 L170.6,251.82 L171.1,253.45 L171.6,255.04 L172.1,256.6 L172.6,258.12 L173.1,259.6 L173.6,261.04 L174.1,262.44 L174.6,263.78 L175.1,265.09 L175.6,266.34 L176.1,267.53 L176.6,268.68 L177.1,269.77 L177.6,270.8 L178.1,271.77 L178.6,272.69 L179.1,273.54 L179.6,274.33 L180.1,275.05 L180.6,275.71 L181.1,276.3 L181.6,276.83 L182.1,277.29 L182.6,277.68 L183.1,278.01 L183.6,278.26 L184.1,278.44 L184.6,278.56 L185.1,278.6 L185.6,278.57 L186.1,278.48 L186.6,278.31 L187.1,278.07 L187.6,277.77 L188.1,277.39 L188.6,276.95 L189.1,276.44 L189.6,275.86 L190.1,275.21 L190.6,274.51 L191.1,273.73 L191.6,272.9 L192.1,272 L192.6,271.04 L193.1,270.02 L193.6,268.94 L194.1,267.81 L194.6,266.63 L195.1,265.39 L195.6,264.1 L196.1,262.76 L196.6,261.38 L197.1,259.95 L197.6,258.48 L198.1,256.97 L198.6,255.42 L199.1,253.83 L199.6,252.21 L200.1,250.56 L200.6,248.88 L201.1,247.17 L201.6,245.44 L202.1,243.69 L202.6,241.92 L203.1,240.14 L203.6,238.34 L204.1,236.53 L204.6,234.71 L205.1,232.89 L205.6,231.06 L206.1,229.24 L206.6,227.42 L207.1,225.6 L207.6,223.79 L208.1,221.99 L208.6,220.2 L209.1,218.44 L209.6,216.69 L210.1,214.96 L210.6,213.25 L211.1,211.57 L211.6,209.92 L212.1,208.31 L212.6,206.72 L213.1,205.17 L213.6,203.66 L214.1,202.19 L214.6,200.76 L215.1,199.38 L215.6,198.05 L216.1,196.76 L216.6,195.52 L217.1,194.34 L217.6,193.21 L218.1,192.14 L218.6,191.12 L219.1,190.17 L219.6,189.27 L220.1,188.44 L220.6,187.67 L221.1,186.96 L221.6,186.32 L222.1,185.74 L222.6,185.23 L223.1,184.79 L223.6,184.42 L224.1,184.12 L224.6,183.88 L225.1,183.72 L225.6,183.62 L226.1,183.6 L226.6,183.65 L227.1,183.76 L227.6,183.95 L228.1,184.21 L228.6,184.53 L229.1,184.93 L229.6,185.39 L230.1,185.92 L230.6,186.51 L231.1,187.18 L231.6,187.9 L232.1,188.7 L232.6,189.55 L233.1,190.47 L233.6,191.44 L234.1,192.48 L234.6,193.57 L235.1,194.71 L235.6,195.91 L236.1,197.17 L236.6,198.47 L237.1,199.82 L237.6,201.22 L238.1,202.66 L238.6,204.14 L239.1,205.66 L239.6,207.22 L240.1,208.82 L240.6,210.45 L241.1,212.11 L241.6,213.79 L242.1,215.51 L242.6,217.24 L243.1,219 L243.6,220.77 L244.1,222.56 L244.6,224.37 L245.1,226.18 L245.6,228 L246.1,229.82 L246.6,231.65 L247.1,233.47 L247.6,235.29 L248.1,237.11 L248.6,238.92 L249.1,240.71 L249.6,242.49 L250.1,244.26 L250.6,246 L251.1,247.72 L251.6,249.42 L252.1,251.09 L252.6,252.73 L253.1,254.34 L253.6,255.92 L254.1,257.46 L254.6,258.95 L255.1,260.41 L255.6,261.83 L256.1,263.2 L256.6,264.52 L257.1,265.79 L257.6,267.01 L258.1,268.18 L258.6,269.3 L259.1,270.35 L259.6,271.35 L260.1,272.29 L260.6,273.17 L261.1,273.99 L261.6,274.74 L262.1,275.43 L262.6,276.05 L263.1,276.61 L263.6,277.1 L264.1,277.52 L264.6,277.87 L265.1,278.16 L265.6,278.37 L266.1,278.51 L266.6,278.59 L267.1,278.59 L267.6,278.53 L268.1,278.39 L268.6,278.19 L269.1,277.91 L269.6,277.57 L270.1,277.15 L270.6,276.67 L271.1,276.12 L271.6,275.51 L272.1,274.83 L272.6,274.08 L273.1,273.27 L273.6,272.4 L274.1,271.47 L274.6,270.48 L275.1,269.43 L275.6,268.32 L276.1,267.16 L276.6,265.94 L277.1,264.67 L277.6,263.36 L278.1,261.99 L278.6,260.59 L279.1,259.13 L279.6,257.64 L280.1,256.1 L280.6,254.53 L281.1,252.93 L281.6,251.29 L282.1,249.62 L282.6,247.93 L283.1,246.21 L283.6,244.47 L284.1,242.7 L284.6,240.93 L285.1,239.13 L285.6,237.33 L286.1,235.51 L286.6,233.69 L287.1,231.87 L287.6,230.04 L288.1,228.22 L288.6,226.4 L289.1,224.58 L289.6,222.78 L290.1,220.99 L290.6,219.21 L291.1,217.45 L291.6,215.71 L292.1,214 L292.6,212.31 L293.1,210.65 L293.6,209.01 L294.1,207.41 L294.6,205.85 L295.1,204.32 L295.6,202.83 L296.1,201.39 L296.6,199.98 L297.1,198.63 L297.6,197.32 L298.1,196.06 L298.6,194.85 L299.1,193.7 L299.6,192.6 L300.1,191.56 L300.6,190.58 L301.1,189.66 L301.6,188.8 L302.1,188 L302.6,187.26 L303.1,186.59 L303.6,185.99 L304.1,185.45 L304.6,184.98 L305.1,184.58 L305.6,184.24 L306.1,183.98 L306.6,183.78 L307.1,183.66 L307.6,183.6 L308.1,183.62 L308.6,183.7 L309.1,183.86 L309.6,184.08 L310.1,184.38 L310.6,184.74 L311.1,185.18 L311.6,185.68 L312.1,186.24 L312.6,186.88 L313.1,187.58 L313.6,188.34 L314.1,189.17 L314.6,190.06 L315.1,191 L315.6,192.01 L316.1,193.08 L316.6,194.2 L317.1,195.38 L317.6,196.61 L318.1,197.89 L318.6,199.22 L319.1,200.6 L319.6,202.02 L320.1,203.48 L320.6,204.99 L321.1,206.53 L321.6,208.11 L322.1,209.73 L322.6,211.37 L323.1,213.05 L323.6,214.75 L324.1,216.48 L324.6,218.23 L325.1,219.99 L325.6,221.78 L326.1,223.57 L326.6,225.38 L327.1,227.2 L327.6,229.02 L328.1,230.84 L328.6,232.67 L329.1,234.49 L329.6,236.31 L330.1,238.12 L330.6,239.92 L331.1,241.71 L331.6,243.48 L332.1,245.24 L332.6,246.97 L333.1,248.68 L333.6,250.36 L334.1,252.01 L334.6,253.64 L335.1,255.23 L335.6,256.78 L336.1,258.3 L336.6,259.78 L337.1,261.21 L337.6,262.6 L338.1,263.94 L338.6,265.24 L339.1,266.48 L339.6,267.67 L340.1,268.81 L340.6,269.89 L341.1,270.92 L341.6,271.88 L342.1,272.79 L342.6,273.63 L343.1,274.42 L343.6,275.13 L344.1,275.79 L344.6,276.37 L345.1,276.89 L345.6,277.34 L346.1,277.73 L346.6,278.04 L347.1,278.28 L347.6,278.46 L348.1,278.56 L348.6,278.6 L349.1,278.56 L349.6,278.46 L350.1,278.28 L350.6,278.04 L351.1,277.73 L351.6,277.34 L352.1,276.89 L352.6,276.37 L353.1,275.79 L353.6,275.13 L354.1,274.42 L354.6,273.63 L355.1,272.79 L355.6,271.88 L356.1,270.92 L356.6,269.89 L357.1,268.81 L357.6,267.67 L358.1,266.48 L358.6,265.24 L359.1,263.94 L359.6,262.6 L360.1,261.21 L360.6,259.78 L361.1,258.3 L361.6,256.78 L362.1,255.23 L362.6,253.64 L363.1,252.01 L363.6,250.36 L364.1,248.68 L364.6,246.97 L365.1,245.24 L365.6,243.48 L366.1,241.71 L366.6,239.92 L367.1,238.12 L367.6,236.31 L368.1,234.49 L368.6,232.67 L369.1,230.84 L369.6,229.02 L370.1,227.2 L370.6,225.38 L371.1,223.57 L371.6,221.78 L372.1,219.99 L372.6,218.23 L373.1,216.48 L373.6,214.75 L374.1,213.05 L374.6,211.37 L375.1,209.73 L375.6,208.11 L376.1,206.53 L376.6,204.99 L377.1,203.48 L377.6,202.02 L378.1,200.6 L378.6,199.22" fill="none" stroke="#4EBEFA" stroke-width="2.6" stroke-linejoin="round"/>
<circle cx="42.5" cy="224.7" r="2.2" fill="#4CBAF5"/><circle cx="61.2" cy="184.9" r="2.2" fill="#4CBAF5"/><circle cx="79.3" cy="214.2" r="2.2" fill="#4CBAF5"/><circle cx="97.8" cy="274.1" r="2.2" fill="#4CBAF5"/><circle cx="115.2" cy="262.1" r="2.2" fill="#4CBAF5"/><circle cx="133.3" cy="197.6" r="2.2" fill="#4CBAF5"/><circle cx="151.8" cy="191.3" r="2.2" fill="#4CBAF5"/><circle cx="170.1" cy="250.7" r="2.2" fill="#4CBAF5"/><circle cx="188.1" cy="278.3" r="2.2" fill="#4CBAF5"/><circle cx="206.2" cy="227.1" r="2.2" fill="#4CBAF5"/><circle cx="224.7" cy="183.3" r="2.2" fill="#4CBAF5"/><circle cx="242.4" cy="220.5" r="2.2" fill="#4CBAF5"/><circle cx="261" cy="274.9" r="2.2" fill="#4CBAF5"/><circle cx="279" cy="258.3" r="2.2" fill="#4CBAF5"/><circle cx="297.1" cy="194.8" r="2.2" fill="#4CBAF5"/><circle cx="315.2" cy="191.3" r="2.2" fill="#4CBAF5"/><circle cx="333.5" cy="251" r="2.2" fill="#4CBAF5"/><circle cx="352.1" cy="277.4" r="2.2" fill="#4CBAF5"/><circle cx="370.1" cy="224.1" r="2.2" fill="#4CBAF5"/>
<path d="M33.6,206.03 L34.1,204.45 L34.6,202.91 L35.1,201.41 L35.6,199.96 L36.1,198.55 L36.6,197.19 L37.1,195.88 L37.6,194.62 L38.1,193.42 L38.6,192.27 L39.1,191.18 L39.6,190.15 L40.1,189.18 L40.6,188.27 L41.1,187.43 L41.6,186.65 L42.1,185.93 L42.6,185.29 L43.1,184.71 L43.6,184.2 L44.1,183.76 L44.6,183.39 L45.1,183.09 L45.6,182.86 L46.1,182.7 L46.6,182.62 L47.1,182.6 L47.6,182.66 L48.1,182.79 L48.6,183 L49.1,183.27 L49.6,183.61 L50.1,184.03 L50.6,184.51 L51.1,185.07 L51.6,185.69 L52.1,186.38 L52.6,187.14 L53.1,187.96 L53.6,188.84 L54.1,189.79 L54.6,190.8 L55.1,191.87 L55.6,193 L56.1,194.18 L56.6,195.42 L57.1,196.71 L57.6,198.05 L58.1,199.44 L58.6,200.88 L59.1,202.36 L59.6,203.89 L60.1,205.46 L60.6,207.06 L61.1,208.7 L61.6,210.37 L62.1,212.07 L62.6,213.8 L63.1,215.56 L63.6,217.34 L64.1,219.14 L64.6,220.96 L65.1,222.79 L65.6,224.64 L66.1,226.49 L66.6,228.35 L67.1,230.22 L67.6,232.08 L68.1,233.95 L68.6,235.81 L69.1,237.66 L69.6,239.5 L70.1,241.33 L70.6,243.15 L71.1,244.94 L71.6,246.72 L72.1,248.47 L72.6,250.2 L73.1,251.9 L73.6,253.57 L74.1,255.2 L74.6,256.8 L75.1,258.36 L75.6,259.88 L76.1,261.35 L76.6,262.78 L77.1,264.17 L77.6,265.5 L78.1,266.78 L78.6,268.01 L79.1,269.19 L79.6,270.31 L80.1,271.36 L80.6,272.36 L81.1,273.3 L81.6,274.18 L82.1,274.99 L82.6,275.73 L83.1,276.41 L83.6,277.02 L84.1,277.57 L84.6,278.04 L85.1,278.45 L85.6,278.78 L86.1,279.04 L86.6,279.23 L87.1,279.35 L87.6,279.4 L88.1,279.37 L88.6,279.28 L89.1,279.11 L89.6,278.87 L90.1,278.56 L90.6,278.18 L91.1,277.73 L91.6,277.21 L92.1,276.62 L92.6,275.96 L93.1,275.23 L93.6,274.44 L94.1,273.59 L94.6,272.67 L95.1,271.69 L95.6,270.65 L96.1,269.55 L96.6,268.39 L97.1,267.18 L97.6,265.92 L98.1,264.6 L98.6,263.23 L99.1,261.81 L99.6,260.35 L100.1,258.85 L100.6,257.3 L101.1,255.72 L101.6,254.09 L102.1,252.44 L102.6,250.75 L103.1,249.03 L103.6,247.28 L104.1,245.52 L104.6,243.73 L105.1,241.92 L105.6,240.09 L106.1,238.25 L106.6,236.4 L107.1,234.54 L107.6,232.68 L108.1,230.81 L108.6,228.95 L109.1,227.09 L109.6,225.23 L110.1,223.38 L110.6,221.54 L111.1,219.72 L111.6,217.92 L112.1,216.13 L112.6,214.36 L113.1,212.62 L113.6,210.91 L114.1,209.23 L114.6,207.58 L115.1,205.96 L115.6,204.39 L116.1,202.85 L116.6,201.35 L117.1,199.9 L117.6,198.49 L118.1,197.13 L118.6,195.83 L119.1,194.57 L119.6,193.37 L120.1,192.22 L120.6,191.14 L121.1,190.11 L121.6,189.14 L122.1,188.24 L122.6,187.39 L123.1,186.62 L123.6,185.9 L124.1,185.26 L124.6,184.68 L125.1,184.18 L125.6,183.74 L126.1,183.37 L126.6,183.08 L127.1,182.85 L127.6,182.7 L128.1,182.61 L128.6,182.6 L129.1,182.67 L129.6,182.8 L130.1,183.01 L130.6,183.28 L131.1,183.63 L131.6,184.05 L132.1,184.54 L132.6,185.09 L133.1,185.72 L133.6,186.41 L134.1,187.17 L134.6,187.99 L135.1,188.88 L135.6,189.83 L136.1,190.84 L136.6,191.91 L137.1,193.04 L137.6,194.23 L138.1,195.47 L138.6,196.76 L139.1,198.11 L139.6,199.5 L140.1,200.94 L140.6,202.42 L141.1,203.95 L141.6,205.52 L142.1,207.12 L142.6,208.76 L143.1,210.44 L143.6,212.14 L144.1,213.87 L144.6,215.63 L145.1,217.41 L145.6,219.21 L146.1,221.03 L146.6,222.87 L147.1,224.71 L147.6,226.56 L148.1,228.43 L148.6,230.29 L149.1,232.16 L149.6,234.02 L150.1,235.88 L150.6,237.73 L151.1,239.58 L151.6,241.41 L152.1,243.22 L152.6,245.02 L153.1,246.79 L153.6,248.54 L154.1,250.27 L154.6,251.97 L155.1,253.63 L155.6,255.26 L156.1,256.86 L156.6,258.42 L157.1,259.94 L157.6,261.41 L158.1,262.84 L158.6,264.22 L159.1,265.55 L159.6,266.83 L160.1,268.06 L160.6,269.23 L161.1,270.35 L161.6,271.41 L162.1,272.4 L162.6,273.34 L163.1,274.21 L163.6,275.02 L164.1,275.76 L164.6,276.44 L165.1,277.05 L165.6,277.59 L166.1,278.06 L166.6,278.46 L167.1,278.79 L167.6,279.05 L168.1,279.24 L168.6,279.35 L169.1,279.4 L169.6,279.37 L170.1,279.27 L170.6,279.1 L171.1,278.86 L171.6,278.55 L172.1,278.16 L172.6,277.71 L173.1,277.18 L173.6,276.59 L174.1,275.93 L174.6,275.2 L175.1,274.41 L175.6,273.55 L176.1,272.63 L176.6,271.65 L177.1,270.61 L177.6,269.51 L178.1,268.35 L178.6,267.13 L179.1,265.86 L179.6,264.54 L180.1,263.17 L180.6,261.76 L181.1,260.29 L181.6,258.79 L182.1,257.24 L182.6,255.65 L183.1,254.03 L183.6,252.37 L184.1,250.68 L184.6,248.96 L185.1,247.21 L185.6,245.44 L186.1,243.65 L186.6,241.84 L187.1,240.02 L187.6,238.18 L188.1,236.33 L188.6,234.47 L189.1,232.6 L189.6,230.74 L190.1,228.87 L190.6,227.01 L191.1,225.15 L191.6,223.31 L192.1,221.47 L192.6,219.65 L193.1,217.84 L193.6,216.06 L194.1,214.29 L194.6,212.56 L195.1,210.84 L195.6,209.16 L196.1,207.51 L196.6,205.9 L197.1,204.32 L197.6,202.79 L198.1,201.29 L198.6,199.84 L199.1,198.44 L199.6,197.08 L200.1,195.78 L200.6,194.52 L201.1,193.32 L201.6,192.18 L202.1,191.09 L202.6,190.07 L203.1,189.1 L203.6,188.2 L204.1,187.36 L204.6,186.59 L205.1,185.88 L205.6,185.24 L206.1,184.66 L206.6,184.16 L207.1,183.72 L207.6,183.36 L208.1,183.07 L208.6,182.84 L209.1,182.69 L209.6,182.61 L210.1,182.61 L210.6,182.67 L211.1,182.81 L211.6,183.02 L212.1,183.29 L212.6,183.65 L213.1,184.07 L213.6,184.56 L214.1,185.12 L214.6,185.74 L215.1,186.44 L215.6,187.2 L216.1,188.03 L216.6,188.92 L217.1,189.87 L217.6,190.88 L218.1,191.96 L218.6,193.09 L219.1,194.28 L219.6,195.52 L220.1,196.82 L220.6,198.16 L221.1,199.56 L221.6,201 L222.1,202.48 L222.6,204.01 L223.1,205.58 L223.6,207.19 L224.1,208.83 L224.6,210.51 L225.1,212.21 L225.6,213.94 L226.1,215.7 L226.6,217.48 L227.1,219.29 L227.6,221.11 L228.1,222.94 L228.6,224.78 L229.1,226.64 L229.6,228.5 L230.1,230.37 L230.6,232.23 L231.1,234.1 L231.6,235.96 L232.1,237.81 L232.6,239.65 L233.1,241.48 L233.6,243.29 L234.1,245.09 L234.6,246.86 L235.1,248.61 L235.6,250.34 L236.1,252.03 L236.6,253.7 L237.1,255.33 L237.6,256.92 L238.1,258.48 L238.6,260 L239.1,261.47 L239.6,262.89 L240.1,264.27 L240.6,265.6 L241.1,266.88 L241.6,268.11 L242.1,269.28 L242.6,270.39 L243.1,271.45 L243.6,272.44 L244.1,273.37 L244.6,274.24 L245.1,275.05 L245.6,275.79 L246.1,276.46 L246.6,277.07 L247.1,277.61 L247.6,278.08 L248.1,278.47 L248.6,278.8 L249.1,279.06 L249.6,279.24 L250.1,279.36 L250.6,279.4 L251.1,279.37 L251.6,279.27 L252.1,279.09 L252.6,278.85 L253.1,278.53 L253.6,278.14 L254.1,277.69 L254.6,277.16 L255.1,276.57 L255.6,275.9 L256.1,275.17 L256.6,274.38 L257.1,273.52 L257.6,272.59 L258.1,271.61 L258.6,270.56 L259.1,269.46 L259.6,268.3 L260.1,267.08 L260.6,265.81 L261.1,264.49 L261.6,263.12 L262.1,261.7 L262.6,260.23 L263.1,258.73 L263.6,257.18 L264.1,255.59 L264.6,253.96 L265.1,252.3 L265.6,250.61 L266.1,248.89 L266.6,247.14 L267.1,245.37 L267.6,243.58 L268.1,241.77 L268.6,239.94 L269.1,238.1 L269.6,236.25 L270.1,234.39 L270.6,232.53 L271.1,230.66 L271.6,228.8 L272.1,226.94 L272.6,225.08 L273.1,223.23 L273.6,221.4 L274.1,219.58 L274.6,217.77 L275.1,215.99 L275.6,214.22 L276.1,212.49 L276.6,210.78 L277.1,209.1 L277.6,207.45 L278.1,205.84 L278.6,204.26 L279.1,202.73 L279.6,201.23 L280.1,199.78 L280.6,198.38 L281.1,197.03 L281.6,195.72 L282.1,194.47 L282.6,193.28 L283.1,192.14 L283.6,191.05 L284.1,190.03 L284.6,189.07 L285.1,188.17 L285.6,187.33 L286.1,186.56 L286.6,185.85 L287.1,185.21 L287.6,184.64 L288.1,184.14 L288.6,183.71 L289.1,183.35 L289.6,183.06 L290.1,182.84 L290.6,182.69 L291.1,182.61 L291.6,182.61 L292.1,182.67 L292.6,182.81 L293.1,183.03 L293.6,183.31 L294.1,183.66 L294.6,184.08 L295.1,184.58 L295.6,185.14 L296.1,185.77 L296.6,186.47 L297.1,187.23 L297.6,188.06 L298.1,188.95 L298.6,189.91 L299.1,190.93 L299.6,192 L300.1,193.14 L300.6,194.33 L301.1,195.57 L301.6,196.87 L302.1,198.22 L302.6,199.61 L303.1,201.06 L303.6,202.55 L304.1,204.08 L304.6,205.65 L305.1,207.25 L305.6,208.9 L306.1,210.57 L306.6,212.28 L307.1,214.01 L307.6,215.77 L308.1,217.56 L308.6,219.36 L309.1,221.18 L309.6,223.01 L310.1,224.86 L310.6,226.71 L311.1,228.58 L311.6,230.44 L312.1,232.31 L312.6,234.17 L313.1,236.03 L313.6,237.88 L314.1,239.72 L314.6,241.55 L315.1,243.36 L315.6,245.16 L316.1,246.93 L316.6,248.68 L317.1,250.41 L317.6,252.1 L318.1,253.76 L318.6,255.39 L319.1,256.99 L319.6,258.54 L320.1,260.06 L320.6,261.53 L321.1,262.95 L321.6,264.33 L322.1,265.66 L322.6,266.93 L323.1,268.16 L323.6,269.32 L324.1,270.44 L324.6,271.49 L325.1,272.48 L325.6,273.41 L326.1,274.28 L326.6,275.08 L327.1,275.82 L327.6,276.49 L328.1,277.09 L328.6,277.63 L329.1,278.09 L329.6,278.49 L330.1,278.81 L330.6,279.07 L331.1,279.25 L331.6,279.36 L332.1,279.4 L332.6,279.37 L333.1,279.26 L333.6,279.09 L334.1,278.84 L334.6,278.52 L335.1,278.13 L335.6,277.67 L336.1,277.14 L336.6,276.54 L337.1,275.87 L337.6,275.14 L338.1,274.34 L338.6,273.48 L339.1,272.56 L339.6,271.57 L340.1,270.52 L340.6,269.42 L341.1,268.25 L341.6,267.03 L342.1,265.76 L342.6,264.44 L343.1,263.06 L343.6,261.64 L344.1,260.17 L344.6,258.66 L345.1,257.11 L345.6,255.52 L346.1,253.9 L346.6,252.24 L347.1,250.54 L347.6,248.82 L348.1,247.07 L348.6,245.3 L349.1,243.51 L349.6,241.7 L350.1,239.87 L350.6,238.03 L351.1,236.18 L351.6,234.32 L352.1,232.46 L352.6,230.59 L353.1,228.72 L353.6,226.86 L354.1,225.01 L354.6,223.16 L355.1,221.32 L355.6,219.5 L356.1,217.7 L356.6,215.92 L357.1,214.15 L357.6,212.42 L358.1,210.71 L358.6,209.03 L359.1,207.38 L359.6,205.77 L360.1,204.2 L360.6,202.67 L361.1,201.17 L361.6,199.73 L362.1,198.33 L362.6,196.97 L363.1,195.67 L363.6,194.42 L364.1,193.23 L364.6,192.09 L365.1,191.01 L365.6,189.99 L366.1,189.03 L366.6,188.13 L367.1,187.3 L367.6,186.53 L368.1,185.82 L368.6,185.19 L369.1,184.62 L369.6,184.12 L370.1,183.69 L370.6,183.33 L371.1,183.05 L371.6,182.83 L372.1,182.68 L372.6,182.61 L373.1,182.61 L373.6,182.68 L374.1,182.82 L374.6,183.04 L375.1,183.32 L375.6,183.68 L376.1,184.1 L376.6,184.6 L377.1,185.16 L377.6,185.8 L378.1,186.5 L378.6,187.26" fill="none" stroke="#F83C4E" stroke-width="2.6" stroke-linejoin="round"/>
<circle cx="42.5" cy="183" r="2.2" fill="#A8283C"/><circle cx="61.2" cy="207.1" r="2.2" fill="#A8283C"/><circle cx="79.3" cy="268.8" r="2.2" fill="#A8283C"/><circle cx="97.8" cy="266" r="2.2" fill="#A8283C"/><circle cx="115.6" cy="204.3" r="2.2" fill="#A8283C"/><circle cx="133.9" cy="184.9" r="2.2" fill="#A8283C"/><circle cx="151.8" cy="238.7" r="2.2" fill="#A8283C"/><circle cx="170.1" cy="279.7" r="2.2" fill="#A8283C"/><circle cx="188.1" cy="234.9" r="2.2" fill="#A8283C"/><circle cx="206.2" cy="183" r="2.2" fill="#A8283C"/><circle cx="224.7" cy="208.7" r="2.2" fill="#A8283C"/><circle cx="242.4" cy="271.1" r="2.2" fill="#A8283C"/><circle cx="261" cy="264" r="2.2" fill="#A8283C"/><circle cx="279" cy="202.8" r="2.2" fill="#A8283C"/><circle cx="297.1" cy="187.5" r="2.2" fill="#A8283C"/><circle cx="315.3" cy="244.8" r="2.2" fill="#A8283C"/><circle cx="333.5" cy="279.5" r="2.2" fill="#A8283C"/><circle cx="352.1" cy="234.9" r="2.2" fill="#A8283C"/><circle cx="369.9" cy="183.3" r="2.2" fill="#A8283C"/>
</g>
<path d="M33.6,12.2 H378.9 V283.1" fill="none" stroke="#777" stroke-width="1.4"/>
<path d="M33.6,12.2 V283.1 H378.9" fill="none" stroke="#444" stroke-width="1.4"/>
<path d="M32.9,147.4 H378.9" fill="none" stroke="#333" stroke-width="1.4"/>
<path d="M42.9,146.7 v-3.2 M65.63,146.7 v-1.8 M88.35,146.7 v-3.2 M111.08,146.7 v-1.8 M133.81,146.7 v-3.2 M156.54,146.7 v-1.8 M179.27,146.7 v-3.2 M201.99,146.7 v-1.8 M224.72,146.7 v-3.2 M247.45,146.7 v-1.8 M270.18,146.7 v-3.2 M292.9,146.7 v-1.8 M315.63,146.7 v-3.2 M338.36,146.7 v-1.8 M361.08,146.7 v-3.2 M42.9,282.4 v-3.2 M65.63,282.4 v-1.8 M88.35,282.4 v-3.2 M111.08,282.4 v-1.8 M133.81,282.4 v-3.2 M156.54,282.4 v-1.8 M179.27,282.4 v-3.2 M201.99,282.4 v-1.8 M224.72,282.4 v-3.2 M247.45,282.4 v-1.8 M270.18,282.4 v-3.2 M292.9,282.4 v-1.8 M315.63,282.4 v-3.2 M338.36,282.4 v-1.8 M361.08,282.4 v-3.2 M34.300000000000004,116.1 h3.0 M34.300000000000004,85.6 h1.8 M34.300000000000004,55.1 h3.0 M34.300000000000004,24.6 h1.8 M34.300000000000004,263.27 h3.0 M34.300000000000004,244.05 h1.8 M34.300000000000004,224.82 h3.0 M34.300000000000004,205.6 h1.8 M34.300000000000004,186.38 h3.0 M34.300000000000004,167.15 h1.8" stroke="#2a2a2a" stroke-width="1" fill="none"/>
<g font-family="'Liberation Serif', serif" font-size="12" fill="#111" stroke="#111" stroke-width="0.32"><text x="31.4" y="120.1" text-anchor="end">0.5</text><text x="31.4" y="59.1" text-anchor="end">1.5</text><text x="31.4" y="267.27" text-anchor="end">0.5</text><text x="31.4" y="228.82" text-anchor="end">1.5</text><text x="31.4" y="190.38" text-anchor="end">2.5</text><text x="42.9" y="294.2" text-anchor="middle">0</text><text x="88.35" y="294.2" text-anchor="middle">50</text><text x="133.81" y="294.2" text-anchor="middle">100</text><text x="179.27" y="294.2" text-anchor="middle">150</text><text x="224.72" y="294.2" text-anchor="middle">200</text><text x="270.18" y="294.2" text-anchor="middle">250</text><text x="315.63" y="294.2" text-anchor="middle">300</text><text x="361.08" y="294.2" text-anchor="middle">350</text></g>
<g font-family="'Liberation Serif', serif" fill="#000" stroke="#000" stroke-width="0.42">
<text x="0.3" y="17.2" font-size="18">(a)</text>
<text x="0.9" y="156.9" font-size="18">(d)</text>
<text x="39.4" y="26.4" font-size="14.6">CW</text>
<text x="40.6" y="162.8" font-size="14.3">ASE</text>
<text x="33.8" y="11.3" font-size="12.4" fill="#222" stroke="#222" stroke-width="0.12">×<tspan dx="0.6" dy="-0.9">10</tspan><tspan font-size="7.2" dx="0.2" dy="-5.6">4</tspan></text>
<text x="183.6" y="312.6" font-size="16" font-style="italic">θ</text><text x="197.2" y="312.6" font-size="15">(deg)</text>
<text transform="translate(10.6,78.4) rotate(-90)" font-size="14.5" text-anchor="middle">Coincidence (20s)</text>
<text transform="translate(10.6,217.8) rotate(-90)" font-size="14.5" text-anchor="middle">Coincidence (20s)</text>
<text x="546.3" y="308.5" font-size="14.6" text-anchor="middle">Reconstructed Matrices</text>
<text x="382.1" y="17.1" font-size="18">(b)</text>
<text x="547.2" y="17.1" font-size="18">(c)</text>
<text x="383" y="158.8" font-size="18">(e)</text>
<text x="548" y="159" font-size="18">(f)</text>
</g>
<g font-family="'Liberation Serif', serif" font-weight="bold" font-size="14.5" text-anchor="end">
<text x="372.6" y="25.9" fill="#F4C23C">H basis</text>
<text x="372.6" y="41.7" fill="#27954B">D basis</text>
<text x="372.6" y="160.9" fill="#B02E3C">H basis</text>
<text x="372.6" y="176.7" fill="#4DB8F5">D basis</text>
</g>
<path d="M406.89,100.76 L458.68,72.95 L512.58,100.07 M406.08,85.17 L458.95,58.4 L514.02,84.66 M405.23,68.9 L459.23,43.27 L515.53,68.58 M404.34,51.89 L459.52,27.54 L517.1,51.79 M403.41,34.1 L459.83,11.15 L518.75,34.23 M413.15,104.58 L464.89,76.08 M413.98,96.96 L468.78,129.49 M426.16,112.51 L477.74,82.54 M427.59,89.64 L482.2,120.47 M439.84,120.85 L491.19,89.31 M440.51,82.71 L494.87,111.97 M454.26,129.64 L505.28,96.4 M452.77,76.12 L506.84,103.93" stroke="#e3e3e3" stroke-width="0.7" fill="none"/>
<path d="M413.98,96.96 L411.2,30.94 M464.89,76.08 L466.57,13.8 M427.59,89.64 L426.09,24.88 M477.74,82.54 L480.56,19.27 M440.51,82.71 L440.15,19.16 M491.19,89.31 L495.25,25.03 M452.77,76.12 L453.45,13.75 M505.28,96.4 L510.71,31.08" stroke="#e3e3e3" stroke-width="0.7" fill="none" stroke-dasharray="2,1.2"/>
<path d="M403.41,34.1 L406.89,100.76 L461.76,134.21 L512.58,100.07" stroke="#111" stroke-width="0.9" fill="none" stroke-linejoin="miter"/>
<path d="M406.89,100.76 h-1.6 M406.08,85.17 h-1.6 M405.23,68.9 h-1.6 M404.34,51.89 h-1.6 M403.41,34.1 h-1.6 M413.15,104.58 L411.42,105.54 M468.78,129.49 L470.6,130.57 M426.16,112.51 L424.43,113.51 M482.2,120.47 L484.02,121.5 M439.84,120.85 L438.12,121.91 M494.87,111.97 L496.67,112.93 M454.26,129.64 L452.53,130.76 M506.84,103.93 L508.63,104.85" stroke="#111" stroke-width="0.8" fill="none"/>
<g font-family="'Liberation Serif', serif" font-size="8.4" fill="#151515" stroke="#151515" stroke-width="0.22"><text x="392" y="106.4" text-anchor="middle">-0.25</text><text x="392.1" y="92" text-anchor="middle">0</text><text x="392.1" y="75.9" text-anchor="middle">0.25</text><text x="391.9" y="58.9" text-anchor="middle">0.50</text><text x="391.9" y="42.3" text-anchor="middle">0.75</text><text x="405.5" y="114.3" text-anchor="middle">HH</text><text x="476.6" y="139.4" text-anchor="middle">HH</text><text x="420.4" y="122.7" text-anchor="middle">HV</text><text x="491.4" y="130.7" text-anchor="middle">HV</text><text x="434" y="130.2" text-anchor="middle">VH</text><text x="504.5" y="121.7" text-anchor="middle">VH</text><text x="447.7" y="139.2" text-anchor="middle">VV</text><text x="515.6" y="114" text-anchor="middle">VV</text></g>
<polygon points="450.47,37.04 460.08,41.32 459.53,69.15 450.27,64.56" fill="url(#g2)" stroke="#5a4020" stroke-width="0.35" stroke-opacity="0.6"/>
<polygon points="460.08,41.32 469.13,37.06 468.28,64.52 459.53,69.15" fill="url(#g2)" stroke="#5a4020" stroke-width="0.35" stroke-opacity="0.6"/>
<path d="M460.08,41.32 L459.53,69.15" stroke="#5a4020" stroke-width="0.45" stroke-dasharray="2.2,1.2" stroke-opacity="0.6"/>
<polygon points="450.47,37.04 459.55,32.93 469.13,37.06 460.08,41.32" fill="#FFC742" stroke="#5a4020" stroke-width="0.35" stroke-opacity="0.6"/>
<polygon points="437.53,71.06 446.82,75.89 446.82,77.44 437.54,72.6" fill="url(#g3)" stroke="#5a4020" stroke-width="0.35" stroke-opacity="0.6"/>
<polygon points="446.82,75.89 456.04,71 456.02,72.53 446.82,77.44" fill="url(#g3)" stroke="#5a4020" stroke-width="0.35" stroke-opacity="0.6"/>
<polygon points="437.53,71.06 446.77,66.35 456.04,71 446.82,75.89" fill="#DC4F47" stroke="#5a4020" stroke-width="0.35" stroke-opacity="0.6"/>
<polygon points="463.26,69.45 472.99,74.24 472.93,75.79 463.22,70.98" fill="url(#g4)" stroke="#5a4020" stroke-width="0.35" stroke-opacity="0.6"/>
<polygon points="472.99,74.24 481.7,69.39 481.62,70.92 472.93,75.79" fill="url(#g4)" stroke="#5a4020" stroke-width="0.35" stroke-opacity="0.6"/>
<polygon points="463.26,69.45 472,64.77 481.7,69.39 472.99,74.24" fill="#FCC83C" stroke="#5a4020" stroke-width="0.35" stroke-opacity="0.6"/>
<polygon points="424.05,76.35 433.38,81.42 433.4,83 424.09,77.92" fill="url(#g5)" stroke="#5a4020" stroke-width="0.35" stroke-opacity="0.6"/>
<polygon points="433.38,81.42 443.14,76.28 443.14,77.84 433.4,83" fill="url(#g5)" stroke="#5a4020" stroke-width="0.35" stroke-opacity="0.6"/>
<polygon points="424.05,76.35 433.82,71.4 443.14,76.28 433.38,81.42" fill="#FCC83C" stroke="#5a4020" stroke-width="0.35" stroke-opacity="0.6"/>
<polygon points="450.53,76.56 460.3,81.62 460.28,82.88 450.52,77.81" fill="url(#g6)" stroke="#5a4020" stroke-width="0.35" stroke-opacity="0.6"/>
<polygon points="460.3,81.62 469.5,76.49 469.45,77.74 460.28,82.88" fill="url(#g6)" stroke="#5a4020" stroke-width="0.35" stroke-opacity="0.6"/>
<polygon points="450.53,76.56 459.76,71.62 469.5,76.49 460.3,81.62" fill="#FCC83C" stroke="#5a4020" stroke-width="0.35" stroke-opacity="0.6"/>
<polygon points="476.79,77.71 486.98,82.76 486.89,84.33 476.73,79.26" fill="url(#g7)" stroke="#5a4020" stroke-width="0.35" stroke-opacity="0.6"/>
<polygon points="486.98,82.76 495.61,77.64 495.51,79.18 486.89,84.33" fill="url(#g7)" stroke="#5a4020" stroke-width="0.35" stroke-opacity="0.6"/>
<polygon points="476.79,77.71 485.47,72.77 495.61,77.64 486.98,82.76" fill="#DC4F47" stroke="#5a4020" stroke-width="0.35" stroke-opacity="0.6"/>
<polygon points="408.44,53.97 418.13,58.97 419.22,90.52 409.9,85.16" fill="url(#g8)" stroke="#5a4020" stroke-width="0.35" stroke-opacity="0.6"/>
<polygon points="418.13,58.97 428.88,53.94 429.51,85.06 419.22,90.52" fill="url(#g8)" stroke="#5a4020" stroke-width="0.35" stroke-opacity="0.6"/>
<path d="M418.13,58.97 L419.22,90.52" stroke="#5a4020" stroke-width="0.45" stroke-dasharray="2.2,1.2" stroke-opacity="0.6"/>
<polygon points="408.44,53.97 419.19,49.14 428.88,53.94 418.13,58.97" fill="#FFC742" stroke="#5a4020" stroke-width="0.35" stroke-opacity="0.6"/>
<polygon points="437.1,83.44 446.91,88.76 446.9,90.37 437.12,85.03" fill="url(#g9)" stroke="#5a4020" stroke-width="0.35" stroke-opacity="0.6"/>
<polygon points="446.91,88.76 456.63,83.35 456.61,84.93 446.9,90.37" fill="url(#g9)" stroke="#5a4020" stroke-width="0.35" stroke-opacity="0.6"/>
<polygon points="437.1,83.44 446.85,78.22 456.63,83.35 446.91,88.76" fill="#FCC83C" stroke="#5a4020" stroke-width="0.35" stroke-opacity="0.6"/>
<polygon points="464.2,83.31 474.47,88.62 474.41,90.22 464.16,84.9" fill="url(#g10)" stroke="#5a4020" stroke-width="0.35" stroke-opacity="0.6"/>
<polygon points="474.47,88.62 483.61,83.22 483.53,84.81 474.41,90.22" fill="url(#g10)" stroke="#5a4020" stroke-width="0.35" stroke-opacity="0.6"/>
<polygon points="464.2,83.31 473.39,78.12 483.61,83.22 474.47,88.62" fill="#FCC83C" stroke="#5a4020" stroke-width="0.35" stroke-opacity="0.6"/>
<polygon points="493.11,51.81 504.33,56.73 501.74,90.07 491.04,84.77" fill="url(#g11)" stroke="#5a4020" stroke-width="0.35" stroke-opacity="0.6"/>
<polygon points="504.33,56.73 513.21,51.79 510.29,84.68 501.74,90.07" fill="url(#g11)" stroke="#5a4020" stroke-width="0.35" stroke-opacity="0.6"/>
<path d="M504.33,56.73 L501.74,90.07" stroke="#5a4020" stroke-width="0.45" stroke-dasharray="2.2,1.2" stroke-opacity="0.6"/>
<polygon points="493.11,51.81 502.05,47.06 513.21,51.79 504.33,56.73" fill="#FFC742" stroke="#5a4020" stroke-width="0.35" stroke-opacity="0.6"/>
<polygon points="422.94,92.66 432.75,98.3 432.77,99.93 422.99,94.27" fill="url(#g12)" stroke="#5a4020" stroke-width="0.35" stroke-opacity="0.6"/>
<polygon points="432.75,98.3 443.02,92.54 443.02,94.15 432.77,99.93" fill="url(#g12)" stroke="#5a4020" stroke-width="0.35" stroke-opacity="0.6"/>
<polygon points="422.94,92.66 433.23,87.12 443.02,92.54 432.75,98.3" fill="#DC4F47" stroke="#5a4020" stroke-width="0.35" stroke-opacity="0.6"/>
<polygon points="450.81,92.5 461.1,98.12 461.07,99.42 450.8,93.79" fill="url(#g13)" stroke="#5a4020" stroke-width="0.35" stroke-opacity="0.6"/>
<polygon points="461.1,98.12 470.76,92.39 470.72,93.67 461.07,99.42" fill="url(#g13)" stroke="#5a4020" stroke-width="0.35" stroke-opacity="0.6"/>
<polygon points="450.81,92.5 460.5,86.98 470.76,92.39 461.1,98.12" fill="#DC4F47" stroke="#5a4020" stroke-width="0.35" stroke-opacity="0.6"/>
<polygon points="478.57,90.73 489.38,96.32 489.28,97.94 478.5,92.34" fill="url(#g14)" stroke="#5a4020" stroke-width="0.35" stroke-opacity="0.6"/>
<polygon points="489.38,96.32 498.44,90.63 498.32,92.23 489.28,97.94" fill="url(#g14)" stroke="#5a4020" stroke-width="0.35" stroke-opacity="0.6"/>
<polygon points="478.57,90.73 487.69,85.26 498.44,90.63 489.38,96.32" fill="#FCC83C" stroke="#5a4020" stroke-width="0.35" stroke-opacity="0.6"/>
<polygon points="436.64,98.91 447,104.83 446.99,106.5 436.66,100.55" fill="url(#g15)" stroke="#5a4020" stroke-width="0.35" stroke-opacity="0.6"/>
<polygon points="447,104.83 457.26,98.78 457.24,100.42 446.99,106.5" fill="url(#g15)" stroke="#5a4020" stroke-width="0.35" stroke-opacity="0.6"/>
<polygon points="436.64,98.91 446.93,93.08 457.26,98.78 447,104.83" fill="#FCC83C" stroke="#5a4020" stroke-width="0.35" stroke-opacity="0.6"/>
<polygon points="465.21,100.36 476.06,106.29 475.99,107.94 465.17,102" fill="url(#g16)" stroke="#5a4020" stroke-width="0.35" stroke-opacity="0.6"/>
<polygon points="476.06,106.29 485.65,100.23 485.56,101.86 475.99,107.94" fill="url(#g16)" stroke="#5a4020" stroke-width="0.35" stroke-opacity="0.6"/>
<polygon points="465.21,100.36 474.85,94.54 485.65,100.23 476.06,106.29" fill="#DC4F47" stroke="#5a4020" stroke-width="0.35" stroke-opacity="0.6"/>
<polygon points="451.41,76.86 462.82,82.75 462.03,115.14 451.12,108.87" fill="url(#g17)" stroke="#5a4020" stroke-width="0.35" stroke-opacity="0.6"/>
<polygon points="462.82,82.75 473.44,76.77 472.22,108.71 462.03,115.14" fill="url(#g17)" stroke="#5a4020" stroke-width="0.35" stroke-opacity="0.6"/>
<path d="M462.82,82.75 L462.03,115.14" stroke="#5a4020" stroke-width="0.45" stroke-dasharray="2.2,1.2" stroke-opacity="0.6"/>
<polygon points="451.41,76.86 462.08,71.12 473.44,76.77 462.82,82.75" fill="#FFC742" stroke="#5a4020" stroke-width="0.35" stroke-opacity="0.6"/>
<text x="489.6" y="25.5" font-family="'Liberation Serif', serif" font-size="13.4" fill="#111" stroke="#111" stroke-width="0.25">Re(<tspan font-style="italic" font-size="14.6" dx="0.5">ρ</tspan><tspan dx="0.9">)</tspan></text>
<path d="M565.09,100.41 L616.88,72.6 L670.78,99.72 M564.28,84.82 L617.15,58.05 L672.22,84.31 M563.43,68.55 L617.43,42.92 L673.73,68.23 M562.54,51.54 L617.72,27.19 L675.3,51.44 M561.61,33.75 L618.03,10.8 L676.95,33.88 M571.35,104.23 L623.09,75.73 M572.18,96.61 L626.98,129.14 M584.36,112.16 L635.94,82.19 M585.79,89.29 L640.4,120.12 M598.04,120.5 L649.39,88.96 M598.71,82.36 L653.07,111.62 M612.46,129.29 L663.48,96.05 M610.97,75.77 L665.04,103.58" stroke="#e3e3e3" stroke-width="0.7" fill="none"/>
<path d="M572.18,96.61 L569.4,30.59 M623.09,75.73 L624.77,13.45 M585.79,89.29 L584.29,24.53 M635.94,82.19 L638.76,18.92 M598.71,82.36 L598.35,18.81 M649.39,88.96 L653.45,24.68 M610.97,75.77 L611.65,13.4 M663.48,96.05 L668.91,30.73" stroke="#e3e3e3" stroke-width="0.7" fill="none" stroke-dasharray="2,1.2"/>
<path d="M561.61,33.75 L565.09,100.41 L619.96,133.86 L670.78,99.72" stroke="#111" stroke-width="0.9" fill="none" stroke-linejoin="miter"/>
<path d="M565.09,100.41 h-1.6 M564.28,84.82 h-1.6 M563.43,68.55 h-1.6 M562.54,51.54 h-1.6 M561.61,33.75 h-1.6 M571.35,104.23 L569.62,105.19 M626.98,129.14 L628.8,130.22 M584.36,112.16 L582.63,113.16 M640.4,120.12 L642.22,121.15 M598.04,120.5 L596.32,121.56 M653.07,111.62 L654.87,112.58 M612.46,129.29 L610.73,130.41 M665.04,103.58 L666.83,104.5" stroke="#111" stroke-width="0.8" fill="none"/>
<g font-family="'Liberation Serif', serif" font-size="8.4" fill="#151515" stroke="#151515" stroke-width="0.22"><text x="550.2" y="106.05" text-anchor="middle">-0.25</text><text x="550.3" y="91.65" text-anchor="middle">0</text><text x="550.3" y="75.55" text-anchor="middle">0.25</text><text x="550.1" y="58.55" text-anchor="middle">0.50</text><text x="550.1" y="41.95" text-anchor="middle">0.75</text><text x="563.7" y="113.95" text-anchor="middle">HH</text><text x="634.8" y="139.05" text-anchor="middle">HH</text><text x="578.6" y="122.35" text-anchor="middle">HV</text><text x="649.6" y="130.35" text-anchor="middle">HV</text><text x="592.2" y="129.85" text-anchor="middle">VH</text><text x="662.7" y="121.35" text-anchor="middle">VH</text><text x="605.9" y="138.85" text-anchor="middle">VV</text><text x="673.8" y="113.65" text-anchor="middle">VV</text></g>
<polygon points="608.54,55.05 617.91,59.54 617.73,68.8 608.47,64.21" fill="url(#g18)" stroke="#1d4a3a" stroke-width="0.35" stroke-opacity="0.6"/>
<polygon points="617.91,59.54 626.76,55.03 626.48,64.17 617.73,68.8" fill="url(#g18)" stroke="#1d4a3a" stroke-width="0.35" stroke-opacity="0.6"/>
<path d="M617.91,59.54 L617.73,68.8" stroke="#1d4a3a" stroke-width="0.45" stroke-dasharray="2.2,1.2" stroke-opacity="0.6"/>
<polygon points="608.54,55.05 617.41,50.69 626.76,55.03 617.91,59.54" fill="#BDEED5" stroke="#1d4a3a" stroke-width="0.35" stroke-opacity="0.6"/>
<polygon points="595.71,68.86 605.03,73.67 605.02,75.54 595.73,70.71" fill="url(#g19)" stroke="#1d4a3a" stroke-width="0.35" stroke-opacity="0.6"/>
<polygon points="605.03,73.67 614.27,68.81 614.24,70.65 605.02,75.54" fill="url(#g19)" stroke="#1d4a3a" stroke-width="0.35" stroke-opacity="0.6"/>
<polygon points="595.71,68.86 604.97,64.17 614.27,68.81 605.03,73.67" fill="#C2F0D5" stroke="#1d4a3a" stroke-width="0.35" stroke-opacity="0.6"/>
<polygon points="621.45,69.4 631.17,74.2 631.13,75.44 621.42,70.63" fill="url(#g20)" stroke="#1d4a3a" stroke-width="0.35" stroke-opacity="0.6"/>
<polygon points="631.17,74.2 639.88,69.35 639.82,70.57 631.13,75.44" fill="url(#g20)" stroke="#1d4a3a" stroke-width="0.35" stroke-opacity="0.6"/>
<polygon points="621.45,69.4 630.19,64.72 639.88,69.35 631.17,74.2" fill="#C2F0D5" stroke="#1d4a3a" stroke-width="0.35" stroke-opacity="0.6"/>
<polygon points="582.29,77.57 591.6,82.65 591.62,83.91 582.33,78.82" fill="url(#g21)" stroke="#1d4a3a" stroke-width="0.35" stroke-opacity="0.6"/>
<polygon points="591.6,82.65 601.34,77.49 601.34,78.74 591.62,83.91" fill="url(#g21)" stroke="#1d4a3a" stroke-width="0.35" stroke-opacity="0.6"/>
<polygon points="582.29,77.57 592.04,72.59 601.34,77.49 591.6,82.65" fill="#31725C" stroke="#1d4a3a" stroke-width="0.35" stroke-opacity="0.6"/>
<polygon points="608.73,76.21 618.5,81.27 618.48,82.53 608.72,77.46" fill="url(#g22)" stroke="#1d4a3a" stroke-width="0.35" stroke-opacity="0.6"/>
<polygon points="618.5,81.27 627.7,76.14 627.65,77.39 618.48,82.53" fill="url(#g22)" stroke="#1d4a3a" stroke-width="0.35" stroke-opacity="0.6"/>
<polygon points="608.73,76.21 617.96,71.27 627.7,76.14 618.5,81.27" fill="#C2F0D5" stroke="#1d4a3a" stroke-width="0.35" stroke-opacity="0.6"/>
<polygon points="634.99,77.36 645.18,82.41 645.11,83.66 634.94,78.6" fill="url(#g23)" stroke="#1d4a3a" stroke-width="0.35" stroke-opacity="0.6"/>
<polygon points="645.18,82.41 653.81,77.29 653.73,78.52 645.11,83.66" fill="url(#g23)" stroke="#1d4a3a" stroke-width="0.35" stroke-opacity="0.6"/>
<polygon points="634.99,77.36 643.67,72.42 653.81,77.29 645.18,82.41" fill="#31725C" stroke="#1d4a3a" stroke-width="0.35" stroke-opacity="0.6"/>
<polygon points="568.07,84.04 577.39,89.39 577.42,90.17 568.1,84.81" fill="url(#g24)" stroke="#1d4a3a" stroke-width="0.35" stroke-opacity="0.6"/>
<polygon points="577.39,89.39 587.7,83.95 587.71,84.71 577.42,90.17" fill="url(#g24)" stroke="#1d4a3a" stroke-width="0.35" stroke-opacity="0.6"/>
<polygon points="568.07,84.04 578.37,78.8 587.7,83.95 577.39,89.39" fill="#C2F0D5" stroke="#1d4a3a" stroke-width="0.35" stroke-opacity="0.6"/>
<polygon points="595.31,83.91 605.11,89.25 605.1,90.02 595.32,84.68" fill="url(#g25)" stroke="#1d4a3a" stroke-width="0.35" stroke-opacity="0.6"/>
<polygon points="605.11,89.25 614.82,83.82 614.81,84.58 605.1,90.02" fill="url(#g25)" stroke="#1d4a3a" stroke-width="0.35" stroke-opacity="0.6"/>
<polygon points="595.31,83.91 605.05,78.69 614.82,83.82 605.11,89.25" fill="#C2F0D5" stroke="#1d4a3a" stroke-width="0.35" stroke-opacity="0.6"/>
<polygon points="622.38,83.79 632.64,89.1 632.61,89.87 622.36,84.55" fill="url(#g26)" stroke="#1d4a3a" stroke-width="0.35" stroke-opacity="0.6"/>
<polygon points="632.64,89.1 641.77,83.7 641.73,84.46 632.61,89.87" fill="url(#g26)" stroke="#1d4a3a" stroke-width="0.35" stroke-opacity="0.6"/>
<polygon points="622.38,83.79 631.56,78.58 641.77,83.7 632.64,89.1" fill="#C2F0D5" stroke="#1d4a3a" stroke-width="0.35" stroke-opacity="0.6"/>
<polygon points="649.29,83.66 660,88.96 659.94,89.72 649.24,84.42" fill="url(#g27)" stroke="#1d4a3a" stroke-width="0.35" stroke-opacity="0.6"/>
<polygon points="660,88.96 668.56,83.57 668.49,84.33 659.94,89.72" fill="url(#g27)" stroke="#1d4a3a" stroke-width="0.35" stroke-opacity="0.6"/>
<polygon points="649.29,83.66 657.9,78.47 668.56,83.57 660,88.96" fill="#C2F0D5" stroke="#1d4a3a" stroke-width="0.35" stroke-opacity="0.6"/>
<polygon points="581.1,91.01 590.92,96.64 590.95,97.95 581.14,92.31" fill="url(#g28)" stroke="#1d4a3a" stroke-width="0.35" stroke-opacity="0.6"/>
<polygon points="590.92,96.64 601.22,90.9 601.22,92.19 590.95,97.95" fill="url(#g28)" stroke="#1d4a3a" stroke-width="0.35" stroke-opacity="0.6"/>
<polygon points="581.1,91.01 591.41,85.49 601.22,90.9 590.92,96.64" fill="#C2F0D5" stroke="#1d4a3a" stroke-width="0.35" stroke-opacity="0.6"/>
<polygon points="609.01,92.15 619.3,97.77 619.27,99.07 609,93.44" fill="url(#g29)" stroke="#1d4a3a" stroke-width="0.35" stroke-opacity="0.6"/>
<polygon points="619.3,97.77 628.96,92.04 628.92,93.32 619.27,99.07" fill="url(#g29)" stroke="#1d4a3a" stroke-width="0.35" stroke-opacity="0.6"/>
<polygon points="609.01,92.15 618.7,86.63 628.96,92.04 619.3,97.77" fill="#31725C" stroke="#1d4a3a" stroke-width="0.35" stroke-opacity="0.6"/>
<polygon points="636.76,90.71 647.56,96.29 647.48,97.59 636.7,91.99" fill="url(#g30)" stroke="#1d4a3a" stroke-width="0.35" stroke-opacity="0.6"/>
<polygon points="647.56,96.29 656.62,90.6 656.52,91.88 647.48,97.59" fill="url(#g30)" stroke="#1d4a3a" stroke-width="0.35" stroke-opacity="0.6"/>
<polygon points="636.76,90.71 645.87,85.23 656.62,90.6 647.56,96.29" fill="#C2F0D5" stroke="#1d4a3a" stroke-width="0.35" stroke-opacity="0.6"/>
<polygon points="594.86,100.2 605.19,106.15 605.19,108.13 594.88,102.16" fill="url(#g31)" stroke="#1d4a3a" stroke-width="0.35" stroke-opacity="0.6"/>
<polygon points="605.19,106.15 615.44,100.07 615.4,102.02 605.19,108.13" fill="url(#g31)" stroke="#1d4a3a" stroke-width="0.35" stroke-opacity="0.6"/>
<polygon points="594.86,100.2 605.13,94.36 615.44,100.07 605.19,106.15" fill="#31725C" stroke="#1d4a3a" stroke-width="0.35" stroke-opacity="0.6"/>
<polygon points="623.41,100.01 634.26,105.94 634.2,107.26 623.37,101.32" fill="url(#g32)" stroke="#1d4a3a" stroke-width="0.35" stroke-opacity="0.6"/>
<polygon points="634.26,105.94 643.85,99.88 643.78,101.18 634.2,107.26" fill="url(#g32)" stroke="#1d4a3a" stroke-width="0.35" stroke-opacity="0.6"/>
<polygon points="623.41,100.01 633.05,94.19 643.85,99.88 634.26,105.94" fill="#31725C" stroke="#1d4a3a" stroke-width="0.35" stroke-opacity="0.6"/>
<polygon points="609.32,108.52 620.23,114.79 620,124.1 609.24,117.73" fill="url(#g33)" stroke="#1d4a3a" stroke-width="0.35" stroke-opacity="0.6"/>
<polygon points="620.23,114.79 630.42,108.36 630.06,117.55 620,124.1" fill="url(#g33)" stroke="#1d4a3a" stroke-width="0.35" stroke-opacity="0.6"/>
<polygon points="609.32,108.52 619.55,102.34 630.42,108.36 620.23,114.79" fill="#31725C" stroke="#1d4a3a" stroke-width="0.35" stroke-opacity="0.6"/>
<text x="652.0" y="26.8" font-family="'Liberation Serif', serif" font-size="13.4" fill="#111" stroke="#111" stroke-width="0.25">Im(<tspan font-style="italic" font-size="14.6" dx="0.5">ρ</tspan><tspan dx="0.9">)</tspan></text>
<path d="M407.99,250.56 L459.78,222.75 L513.68,249.87 M407.18,234.97 L460.05,208.2 L515.12,234.46 M406.33,218.7 L460.33,193.07 L516.63,218.38 M405.44,201.69 L460.62,177.34 L518.2,201.59 M404.51,183.9 L460.93,160.95 L519.85,184.03 M414.25,254.38 L465.99,225.88 M415.08,246.76 L469.88,279.29 M427.26,262.31 L478.84,232.34 M428.69,239.44 L483.3,270.27 M440.94,270.65 L492.29,239.11 M441.61,232.51 L495.97,261.77 M455.36,279.44 L506.38,246.2 M453.87,225.92 L507.94,253.73" stroke="#e3e3e3" stroke-width="0.7" fill="none"/>
<path d="M415.08,246.76 L412.3,180.74 M465.99,225.88 L467.67,163.6 M428.69,239.44 L427.19,174.68 M478.84,232.34 L481.66,169.07 M441.61,232.51 L441.25,168.96 M492.29,239.11 L496.35,174.83 M453.87,225.92 L454.55,163.55 M506.38,246.2 L511.81,180.88" stroke="#e3e3e3" stroke-width="0.7" fill="none" stroke-dasharray="2,1.2"/>
<path d="M404.51,183.9 L407.99,250.56 L462.86,284.01 L513.68,249.87" stroke="#111" stroke-width="0.9" fill="none" stroke-linejoin="miter"/>
<path d="M407.99,250.56 h-1.6 M407.18,234.97 h-1.6 M406.33,218.7 h-1.6 M405.44,201.69 h-1.6 M404.51,183.9 h-1.6 M414.25,254.38 L412.52,255.34 M469.88,279.29 L471.7,280.37 M427.26,262.31 L425.53,263.31 M483.3,270.27 L485.12,271.3 M440.94,270.65 L439.22,271.71 M495.97,261.77 L497.77,262.73 M455.36,279.44 L453.63,280.56 M507.94,253.73 L509.73,254.65" stroke="#111" stroke-width="0.8" fill="none"/>
<g font-family="'Liberation Serif', serif" font-size="8.4" fill="#151515" stroke="#151515" stroke-width="0.22"><text x="393.1" y="256.2" text-anchor="middle">-0.25</text><text x="393.2" y="241.8" text-anchor="middle">0</text><text x="393.2" y="225.7" text-anchor="middle">0.25</text><text x="393" y="208.7" text-anchor="middle">0.50</text><text x="393" y="192.1" text-anchor="middle">0.75</text><text x="406.6" y="264.1" text-anchor="middle">HH</text><text x="477.7" y="289.2" text-anchor="middle">HH</text><text x="421.5" y="272.5" text-anchor="middle">HV</text><text x="492.5" y="280.5" text-anchor="middle">HV</text><text x="435.1" y="280" text-anchor="middle">VH</text><text x="505.6" y="271.5" text-anchor="middle">VH</text><text x="448.8" y="289" text-anchor="middle">VV</text><text x="516.7" y="263.8" text-anchor="middle">VV</text></g>
<polygon points="451.58,185.55 461.2,189.81 460.63,218.95 451.37,214.36" fill="url(#g34)" stroke="#5a1a1a" stroke-width="0.35" stroke-opacity="0.6"/>
<polygon points="461.2,189.81 470.27,185.56 469.38,214.32 460.63,218.95" fill="url(#g34)" stroke="#5a1a1a" stroke-width="0.35" stroke-opacity="0.6"/>
<path d="M461.2,189.81 L460.63,218.95" stroke="#5a1a1a" stroke-width="0.45" stroke-dasharray="2.2,1.2" stroke-opacity="0.6"/>
<polygon points="451.58,185.55 460.67,181.45 470.27,185.56 461.2,189.81" fill="#FF8C8C" stroke="#5a1a1a" stroke-width="0.35" stroke-opacity="0.6"/>
<polygon points="438.61,219.32 447.93,224.13 447.92,225.69 438.63,220.86" fill="url(#g35)" stroke="#5a1a1a" stroke-width="0.35" stroke-opacity="0.6"/>
<polygon points="447.93,224.13 457.16,219.27 457.14,220.8 447.92,225.69" fill="url(#g35)" stroke="#5a1a1a" stroke-width="0.35" stroke-opacity="0.6"/>
<polygon points="438.61,219.32 447.87,214.63 457.16,219.27 447.93,224.13" fill="#FF8686" stroke="#5a1a1a" stroke-width="0.35" stroke-opacity="0.6"/>
<polygon points="464.32,220.78 474.03,225.59 473.97,227.14 464.28,222.31" fill="url(#g36)" stroke="#5a1a1a" stroke-width="0.35" stroke-opacity="0.6"/>
<polygon points="474.03,225.59 482.72,220.72 482.65,222.25 473.97,227.14" fill="url(#g36)" stroke="#5a1a1a" stroke-width="0.35" stroke-opacity="0.6"/>
<polygon points="464.32,220.78 473.05,216.08 482.72,220.72 474.03,225.59" fill="#B82E2A" stroke="#5a1a1a" stroke-width="0.35" stroke-opacity="0.6"/>
<polygon points="425.19,227.72 434.5,232.8 434.53,234.38 425.23,229.28" fill="url(#g37)" stroke="#5a1a1a" stroke-width="0.35" stroke-opacity="0.6"/>
<polygon points="434.5,232.8 444.24,227.64 444.24,229.2 434.53,234.38" fill="url(#g37)" stroke="#5a1a1a" stroke-width="0.35" stroke-opacity="0.6"/>
<polygon points="425.19,227.72 434.94,222.74 444.24,227.64 434.5,232.8" fill="#B82E2A" stroke="#5a1a1a" stroke-width="0.35" stroke-opacity="0.6"/>
<polygon points="451.63,226.36 461.4,231.42 461.38,232.68 451.62,227.61" fill="url(#g38)" stroke="#5a1a1a" stroke-width="0.35" stroke-opacity="0.6"/>
<polygon points="461.4,231.42 470.6,226.29 470.55,227.54 461.38,232.68" fill="url(#g38)" stroke="#5a1a1a" stroke-width="0.35" stroke-opacity="0.6"/>
<polygon points="451.63,226.36 460.86,221.42 470.6,226.29 461.4,231.42" fill="#FF8686" stroke="#5a1a1a" stroke-width="0.35" stroke-opacity="0.6"/>
<polygon points="477.96,225.95 488.17,230.98 488.08,232.56 477.89,227.51" fill="url(#g39)" stroke="#5a1a1a" stroke-width="0.35" stroke-opacity="0.6"/>
<polygon points="488.17,230.98 496.82,225.88 496.71,227.44 488.08,232.56" fill="url(#g39)" stroke="#5a1a1a" stroke-width="0.35" stroke-opacity="0.6"/>
<polygon points="477.96,225.95 486.66,221.03 496.82,225.88 488.17,230.98" fill="#FF8686" stroke="#5a1a1a" stroke-width="0.35" stroke-opacity="0.6"/>
<polygon points="409.54,203.77 419.23,208.77 420.32,240.32 411,234.96" fill="url(#g40)" stroke="#5a1a1a" stroke-width="0.35" stroke-opacity="0.6"/>
<polygon points="419.23,208.77 429.98,203.74 430.61,234.86 420.32,240.32" fill="url(#g40)" stroke="#5a1a1a" stroke-width="0.35" stroke-opacity="0.6"/>
<path d="M419.23,208.77 L420.32,240.32" stroke="#5a1a1a" stroke-width="0.45" stroke-dasharray="2.2,1.2" stroke-opacity="0.6"/>
<polygon points="409.54,203.77 420.29,198.94 429.98,203.74 419.23,208.77" fill="#FF8C8C" stroke="#5a1a1a" stroke-width="0.35" stroke-opacity="0.6"/>
<polygon points="438.2,233.24 448.01,238.56 448,240.17 438.22,234.83" fill="url(#g41)" stroke="#5a1a1a" stroke-width="0.35" stroke-opacity="0.6"/>
<polygon points="448.01,238.56 457.73,233.15 457.71,234.73 448,240.17" fill="url(#g41)" stroke="#5a1a1a" stroke-width="0.35" stroke-opacity="0.6"/>
<polygon points="438.2,233.24 447.95,228.02 457.73,233.15 448.01,238.56" fill="#FF8686" stroke="#5a1a1a" stroke-width="0.35" stroke-opacity="0.6"/>
<polygon points="465.3,233.11 475.57,238.42 475.51,240.02 465.26,234.7" fill="url(#g42)" stroke="#5a1a1a" stroke-width="0.35" stroke-opacity="0.6"/>
<polygon points="475.57,238.42 484.71,233.02 484.63,234.61 475.51,240.02" fill="url(#g42)" stroke="#5a1a1a" stroke-width="0.35" stroke-opacity="0.6"/>
<polygon points="465.3,233.11 474.49,227.92 484.71,233.02 475.57,238.42" fill="#FF8686" stroke="#5a1a1a" stroke-width="0.35" stroke-opacity="0.6"/>
<polygon points="494.16,202.3 505.38,207.23 502.84,239.87 492.14,234.57" fill="url(#g43)" stroke="#5a1a1a" stroke-width="0.35" stroke-opacity="0.6"/>
<polygon points="505.38,207.23 514.24,202.28 511.39,234.48 502.84,239.87" fill="url(#g43)" stroke="#5a1a1a" stroke-width="0.35" stroke-opacity="0.6"/>
<path d="M505.38,207.23 L502.84,239.87" stroke="#5a1a1a" stroke-width="0.45" stroke-dasharray="2.2,1.2" stroke-opacity="0.6"/>
<polygon points="494.16,202.3 503.1,197.54 514.24,202.28 505.38,207.23" fill="#FF8C8C" stroke="#5a1a1a" stroke-width="0.35" stroke-opacity="0.6"/>
<polygon points="424.04,242.46 433.85,248.1 433.87,249.73 424.09,244.07" fill="url(#g44)" stroke="#5a1a1a" stroke-width="0.35" stroke-opacity="0.6"/>
<polygon points="433.85,248.1 444.12,242.34 444.12,243.95 433.87,249.73" fill="url(#g44)" stroke="#5a1a1a" stroke-width="0.35" stroke-opacity="0.6"/>
<polygon points="424.04,242.46 434.33,236.92 444.12,242.34 433.85,248.1" fill="#B82E2A" stroke="#5a1a1a" stroke-width="0.35" stroke-opacity="0.6"/>
<polygon points="451.91,242.3 462.2,247.92 462.17,249.22 451.9,243.59" fill="url(#g45)" stroke="#5a1a1a" stroke-width="0.35" stroke-opacity="0.6"/>
<polygon points="462.2,247.92 471.86,242.19 471.82,243.47 462.17,249.22" fill="url(#g45)" stroke="#5a1a1a" stroke-width="0.35" stroke-opacity="0.6"/>
<polygon points="451.91,242.3 461.6,236.78 471.86,242.19 462.2,247.92" fill="#B82E2A" stroke="#5a1a1a" stroke-width="0.35" stroke-opacity="0.6"/>
<polygon points="479.67,240.53 490.48,246.12 490.38,247.74 479.6,242.14" fill="url(#g46)" stroke="#5a1a1a" stroke-width="0.35" stroke-opacity="0.6"/>
<polygon points="490.48,246.12 499.54,240.43 499.42,242.03 490.38,247.74" fill="url(#g46)" stroke="#5a1a1a" stroke-width="0.35" stroke-opacity="0.6"/>
<polygon points="479.67,240.53 488.79,235.06 499.54,240.43 490.48,246.12" fill="#FF8686" stroke="#5a1a1a" stroke-width="0.35" stroke-opacity="0.6"/>
<polygon points="437.74,248.71 448.1,254.63 448.09,256.3 437.76,250.35" fill="url(#g47)" stroke="#5a1a1a" stroke-width="0.35" stroke-opacity="0.6"/>
<polygon points="448.1,254.63 458.36,248.58 458.34,250.22 448.09,256.3" fill="url(#g47)" stroke="#5a1a1a" stroke-width="0.35" stroke-opacity="0.6"/>
<polygon points="437.74,248.71 448.03,242.88 458.36,248.58 448.1,254.63" fill="#FF8686" stroke="#5a1a1a" stroke-width="0.35" stroke-opacity="0.6"/>
<polygon points="466.31,250.16 477.16,256.09 477.09,257.74 466.27,251.8" fill="url(#g48)" stroke="#5a1a1a" stroke-width="0.35" stroke-opacity="0.6"/>
<polygon points="477.16,256.09 486.75,250.03 486.66,251.66 477.09,257.74" fill="url(#g48)" stroke="#5a1a1a" stroke-width="0.35" stroke-opacity="0.6"/>
<polygon points="466.31,250.16 475.95,244.34 486.75,250.03 477.16,256.09" fill="#B82E2A" stroke="#5a1a1a" stroke-width="0.35" stroke-opacity="0.6"/>
<polygon points="452.5,227.38 463.9,233.29 463.13,264.94 452.22,258.67" fill="url(#g49)" stroke="#5a1a1a" stroke-width="0.35" stroke-opacity="0.6"/>
<polygon points="463.9,233.29 474.52,227.3 473.32,258.51 463.13,264.94" fill="url(#g49)" stroke="#5a1a1a" stroke-width="0.35" stroke-opacity="0.6"/>
<path d="M463.9,233.29 L463.13,264.94" stroke="#5a1a1a" stroke-width="0.45" stroke-dasharray="2.2,1.2" stroke-opacity="0.6"/>
<polygon points="452.5,227.38 463.16,221.64 474.52,227.3 463.9,233.29" fill="#FF8C8C" stroke="#5a1a1a" stroke-width="0.35" stroke-opacity="0.6"/>
<text x="491.0" y="176.3" font-family="'Liberation Serif', serif" font-size="13.4" fill="#111" stroke="#111" stroke-width="0.25">Re(<tspan font-style="italic" font-size="14.6" dx="0.5">ρ</tspan><tspan dx="0.9">)</tspan></text>
<path d="M569.09,250.76 L620.88,222.95 L674.78,250.07 M568.28,235.17 L621.15,208.4 L676.22,234.66 M567.43,218.9 L621.43,193.27 L677.73,218.58 M566.54,201.89 L621.72,177.54 L679.3,201.79 M565.61,184.1 L622.03,161.15 L680.95,184.23 M575.35,254.58 L627.09,226.08 M576.18,246.96 L630.98,279.49 M588.36,262.51 L639.94,232.54 M589.79,239.64 L644.4,270.47 M602.04,270.85 L653.39,239.31 M602.71,232.71 L657.07,261.97 M616.46,279.64 L667.48,246.4 M614.97,226.12 L669.04,253.93" stroke="#e3e3e3" stroke-width="0.7" fill="none"/>
<path d="M576.18,246.96 L573.4,180.94 M627.09,226.08 L628.77,163.8 M589.79,239.64 L588.29,174.88 M639.94,232.54 L642.76,169.27 M602.71,232.71 L602.35,169.16 M653.39,239.31 L657.45,175.03 M614.97,226.12 L615.65,163.75 M667.48,246.4 L672.91,181.08" stroke="#e3e3e3" stroke-width="0.7" fill="none" stroke-dasharray="2,1.2"/>
<path d="M565.61,184.1 L569.09,250.76 L623.96,284.21 L674.78,250.07" stroke="#111" stroke-width="0.9" fill="none" stroke-linejoin="miter"/>
<path d="M569.09,250.76 h-1.6 M568.28,235.17 h-1.6 M567.43,218.9 h-1.6 M566.54,201.89 h-1.6 M565.61,184.1 h-1.6 M575.35,254.58 L573.62,255.54 M630.98,279.49 L632.8,280.57 M588.36,262.51 L586.63,263.51 M644.4,270.47 L646.22,271.5 M602.04,270.85 L600.32,271.91 M657.07,261.97 L658.87,262.93 M616.46,279.64 L614.73,280.76 M669.04,253.93 L670.83,254.85" stroke="#111" stroke-width="0.8" fill="none"/>
<g font-family="'Liberation Serif', serif" font-size="8.4" fill="#151515" stroke="#151515" stroke-width="0.22"><text x="554.2" y="256.4" text-anchor="middle">-0.25</text><text x="554.3" y="242" text-anchor="middle">0</text><text x="554.3" y="225.9" text-anchor="middle">0.25</text><text x="554.1" y="208.9" text-anchor="middle">0.50</text><text x="554.1" y="192.3" text-anchor="middle">0.75</text><text x="567.7" y="264.3" text-anchor="middle">HH</text><text x="638.8" y="289.4" text-anchor="middle">HH</text><text x="582.6" y="272.7" text-anchor="middle">HV</text><text x="653.6" y="280.7" text-anchor="middle">HV</text><text x="596.2" y="280.2" text-anchor="middle">VH</text><text x="666.7" y="271.7" text-anchor="middle">VH</text><text x="609.9" y="289.2" text-anchor="middle">VV</text><text x="677.8" y="264" text-anchor="middle">VV</text></g>
<polygon points="612.51,209.09 621.84,213.62 621.73,219.15 612.47,214.56" fill="url(#g50)" stroke="#3a2a80" stroke-width="0.35" stroke-opacity="0.6"/>
<polygon points="621.84,213.62 630.65,209.06 630.48,214.52 621.73,219.15" fill="url(#g50)" stroke="#3a2a80" stroke-width="0.35" stroke-opacity="0.6"/>
<polygon points="612.51,209.09 621.34,204.69 630.65,209.06 621.84,213.62" fill="#BB9DF8" stroke="#3a2a80" stroke-width="0.35" stroke-opacity="0.6"/>
<polygon points="599.7,218.6 609.03,223.4 609.02,225.89 599.73,221.06" fill="url(#g51)" stroke="#3a2a80" stroke-width="0.35" stroke-opacity="0.6"/>
<polygon points="609.03,223.4 618.28,218.54 618.24,221 609.02,225.89" fill="url(#g51)" stroke="#3a2a80" stroke-width="0.35" stroke-opacity="0.6"/>
<polygon points="599.7,218.6 608.97,213.91 618.28,218.54 609.03,223.4" fill="#BB9DF8" stroke="#3a2a80" stroke-width="0.35" stroke-opacity="0.6"/>
<polygon points="625.42,220.98 635.13,225.79 635.08,227.03 625.39,222.2" fill="url(#g52)" stroke="#3a2a80" stroke-width="0.35" stroke-opacity="0.6"/>
<polygon points="635.13,225.79 643.82,220.92 643.76,222.14 635.08,227.03" fill="url(#g52)" stroke="#3a2a80" stroke-width="0.35" stroke-opacity="0.6"/>
<polygon points="625.42,220.98 634.15,216.28 643.82,220.92 635.13,225.79" fill="#744FE0" stroke="#3a2a80" stroke-width="0.35" stroke-opacity="0.6"/>
<polygon points="586.26,226.66 595.59,231.73 595.6,233 586.29,227.92" fill="url(#g53)" stroke="#3a2a80" stroke-width="0.35" stroke-opacity="0.6"/>
<polygon points="595.59,231.73 605.34,226.59 605.34,227.84 595.6,233" fill="url(#g53)" stroke="#3a2a80" stroke-width="0.35" stroke-opacity="0.6"/>
<polygon points="586.26,226.66 596.02,221.71 605.34,226.59 595.59,231.73" fill="#BB9DF8" stroke="#3a2a80" stroke-width="0.35" stroke-opacity="0.6"/>
<polygon points="612.73,226.56 622.5,231.62 622.48,232.88 612.72,227.81" fill="url(#g54)" stroke="#3a2a80" stroke-width="0.35" stroke-opacity="0.6"/>
<polygon points="622.5,231.62 631.7,226.49 631.65,227.74 622.48,232.88" fill="url(#g54)" stroke="#3a2a80" stroke-width="0.35" stroke-opacity="0.6"/>
<polygon points="612.73,226.56 621.96,221.62 631.7,226.49 622.5,231.62" fill="#BB9DF8" stroke="#3a2a80" stroke-width="0.35" stroke-opacity="0.6"/>
<polygon points="638.99,227.71 649.18,232.76 649.04,235.26 638.89,230.19" fill="url(#g55)" stroke="#3a2a80" stroke-width="0.35" stroke-opacity="0.6"/>
<polygon points="649.18,232.76 657.81,227.64 657.64,230.11 649.04,235.26" fill="url(#g55)" stroke="#3a2a80" stroke-width="0.35" stroke-opacity="0.6"/>
<polygon points="638.99,227.71 647.67,222.77 657.81,227.64 649.18,232.76" fill="#744FE0" stroke="#3a2a80" stroke-width="0.35" stroke-opacity="0.6"/>
<polygon points="572.07,234.39 581.39,239.74 581.42,240.52 572.1,235.16" fill="url(#g56)" stroke="#3a2a80" stroke-width="0.35" stroke-opacity="0.6"/>
<polygon points="581.39,239.74 591.7,234.3 591.71,235.06 581.42,240.52" fill="url(#g56)" stroke="#3a2a80" stroke-width="0.35" stroke-opacity="0.6"/>
<polygon points="572.07,234.39 582.37,229.15 591.7,234.3 581.39,239.74" fill="#BB9DF8" stroke="#3a2a80" stroke-width="0.35" stroke-opacity="0.6"/>
<polygon points="599.31,234.26 609.11,239.6 609.1,240.37 599.32,235.03" fill="url(#g57)" stroke="#3a2a80" stroke-width="0.35" stroke-opacity="0.6"/>
<polygon points="609.11,239.6 618.82,234.17 618.81,234.93 609.1,240.37" fill="url(#g57)" stroke="#3a2a80" stroke-width="0.35" stroke-opacity="0.6"/>
<polygon points="599.31,234.26 609.05,229.04 618.82,234.17 609.11,239.6" fill="#BB9DF8" stroke="#3a2a80" stroke-width="0.35" stroke-opacity="0.6"/>
<polygon points="626.38,234.14 636.64,239.45 636.61,240.22 626.36,234.9" fill="url(#g58)" stroke="#3a2a80" stroke-width="0.35" stroke-opacity="0.6"/>
<polygon points="636.64,239.45 645.77,234.05 645.73,234.81 636.61,240.22" fill="url(#g58)" stroke="#3a2a80" stroke-width="0.35" stroke-opacity="0.6"/>
<polygon points="626.38,234.14 635.56,228.93 645.77,234.05 636.64,239.45" fill="#BB9DF8" stroke="#3a2a80" stroke-width="0.35" stroke-opacity="0.6"/>
<polygon points="653.29,234.01 664,239.31 663.94,240.07 653.24,234.77" fill="url(#g59)" stroke="#3a2a80" stroke-width="0.35" stroke-opacity="0.6"/>
<polygon points="664,239.31 672.56,233.92 672.49,234.68 663.94,240.07" fill="url(#g59)" stroke="#3a2a80" stroke-width="0.35" stroke-opacity="0.6"/>
<polygon points="653.29,234.01 661.9,228.82 672.56,233.92 664,239.31" fill="#BB9DF8" stroke="#3a2a80" stroke-width="0.35" stroke-opacity="0.6"/>
<polygon points="585.14,242.66 594.95,248.3 594.97,249.6 585.18,243.95" fill="url(#g60)" stroke="#3a2a80" stroke-width="0.35" stroke-opacity="0.6"/>
<polygon points="594.95,248.3 605.22,242.54 605.22,243.83 594.97,249.6" fill="url(#g60)" stroke="#3a2a80" stroke-width="0.35" stroke-opacity="0.6"/>
<polygon points="585.14,242.66 595.43,237.12 605.22,242.54 594.95,248.3" fill="#744FE0" stroke="#3a2a80" stroke-width="0.35" stroke-opacity="0.6"/>
<polygon points="613.01,242.5 623.3,248.12 623.27,249.42 613,243.79" fill="url(#g61)" stroke="#3a2a80" stroke-width="0.35" stroke-opacity="0.6"/>
<polygon points="623.3,248.12 632.96,242.39 632.92,243.67 623.27,249.42" fill="url(#g61)" stroke="#3a2a80" stroke-width="0.35" stroke-opacity="0.6"/>
<polygon points="613.01,242.5 622.7,236.98 632.96,242.39 623.3,248.12" fill="#744FE0" stroke="#3a2a80" stroke-width="0.35" stroke-opacity="0.6"/>
<polygon points="640.82,239.76 651.64,245.34 651.48,247.94 640.7,242.34" fill="url(#g62)" stroke="#3a2a80" stroke-width="0.35" stroke-opacity="0.6"/>
<polygon points="651.64,245.34 660.71,239.66 660.52,242.23 651.48,247.94" fill="url(#g62)" stroke="#3a2a80" stroke-width="0.35" stroke-opacity="0.6"/>
<polygon points="640.82,239.76 649.95,234.3 660.71,239.66 651.64,245.34" fill="#BB9DF8" stroke="#3a2a80" stroke-width="0.35" stroke-opacity="0.6"/>
<polygon points="598.86,250.55 609.19,256.5 609.19,259.14 598.89,253.17" fill="url(#g63)" stroke="#3a2a80" stroke-width="0.35" stroke-opacity="0.6"/>
<polygon points="609.19,256.5 619.44,250.42 619.39,253.03 609.19,259.14" fill="url(#g63)" stroke="#3a2a80" stroke-width="0.35" stroke-opacity="0.6"/>
<polygon points="598.86,250.55 609.13,244.71 619.44,250.42 609.19,256.5" fill="#744FE0" stroke="#3a2a80" stroke-width="0.35" stroke-opacity="0.6"/>
<polygon points="627.45,249.05 638.32,254.96 638.26,256.29 627.41,250.36" fill="url(#g64)" stroke="#3a2a80" stroke-width="0.35" stroke-opacity="0.6"/>
<polygon points="638.32,254.96 647.93,248.92 647.85,250.23 638.26,256.29" fill="url(#g64)" stroke="#3a2a80" stroke-width="0.35" stroke-opacity="0.6"/>
<polygon points="627.45,249.05 637.11,243.25 647.93,248.92 638.32,254.96" fill="#BB9DF8" stroke="#3a2a80" stroke-width="0.35" stroke-opacity="0.6"/>
<polygon points="613.32,258.87 624.23,265.14 624.08,271.15 613.27,264.82" fill="url(#g65)" stroke="#3a2a80" stroke-width="0.35" stroke-opacity="0.6"/>
<polygon points="624.23,265.14 634.42,258.71 634.19,264.64 624.08,271.15" fill="url(#g65)" stroke="#3a2a80" stroke-width="0.35" stroke-opacity="0.6"/>
<polygon points="613.32,258.87 623.55,252.69 634.42,258.71 624.23,265.14" fill="#744FE0" stroke="#3a2a80" stroke-width="0.35" stroke-opacity="0.6"/>
<text x="652.8" y="174.9" font-family="'Liberation Serif', serif" font-size="13.4" fill="#111" stroke="#111" stroke-width="0.25">Im(<tspan font-style="italic" font-size="14.6" dx="0.5">ρ</tspan><tspan dx="0.9">)</tspan></text></svg></body></html>
